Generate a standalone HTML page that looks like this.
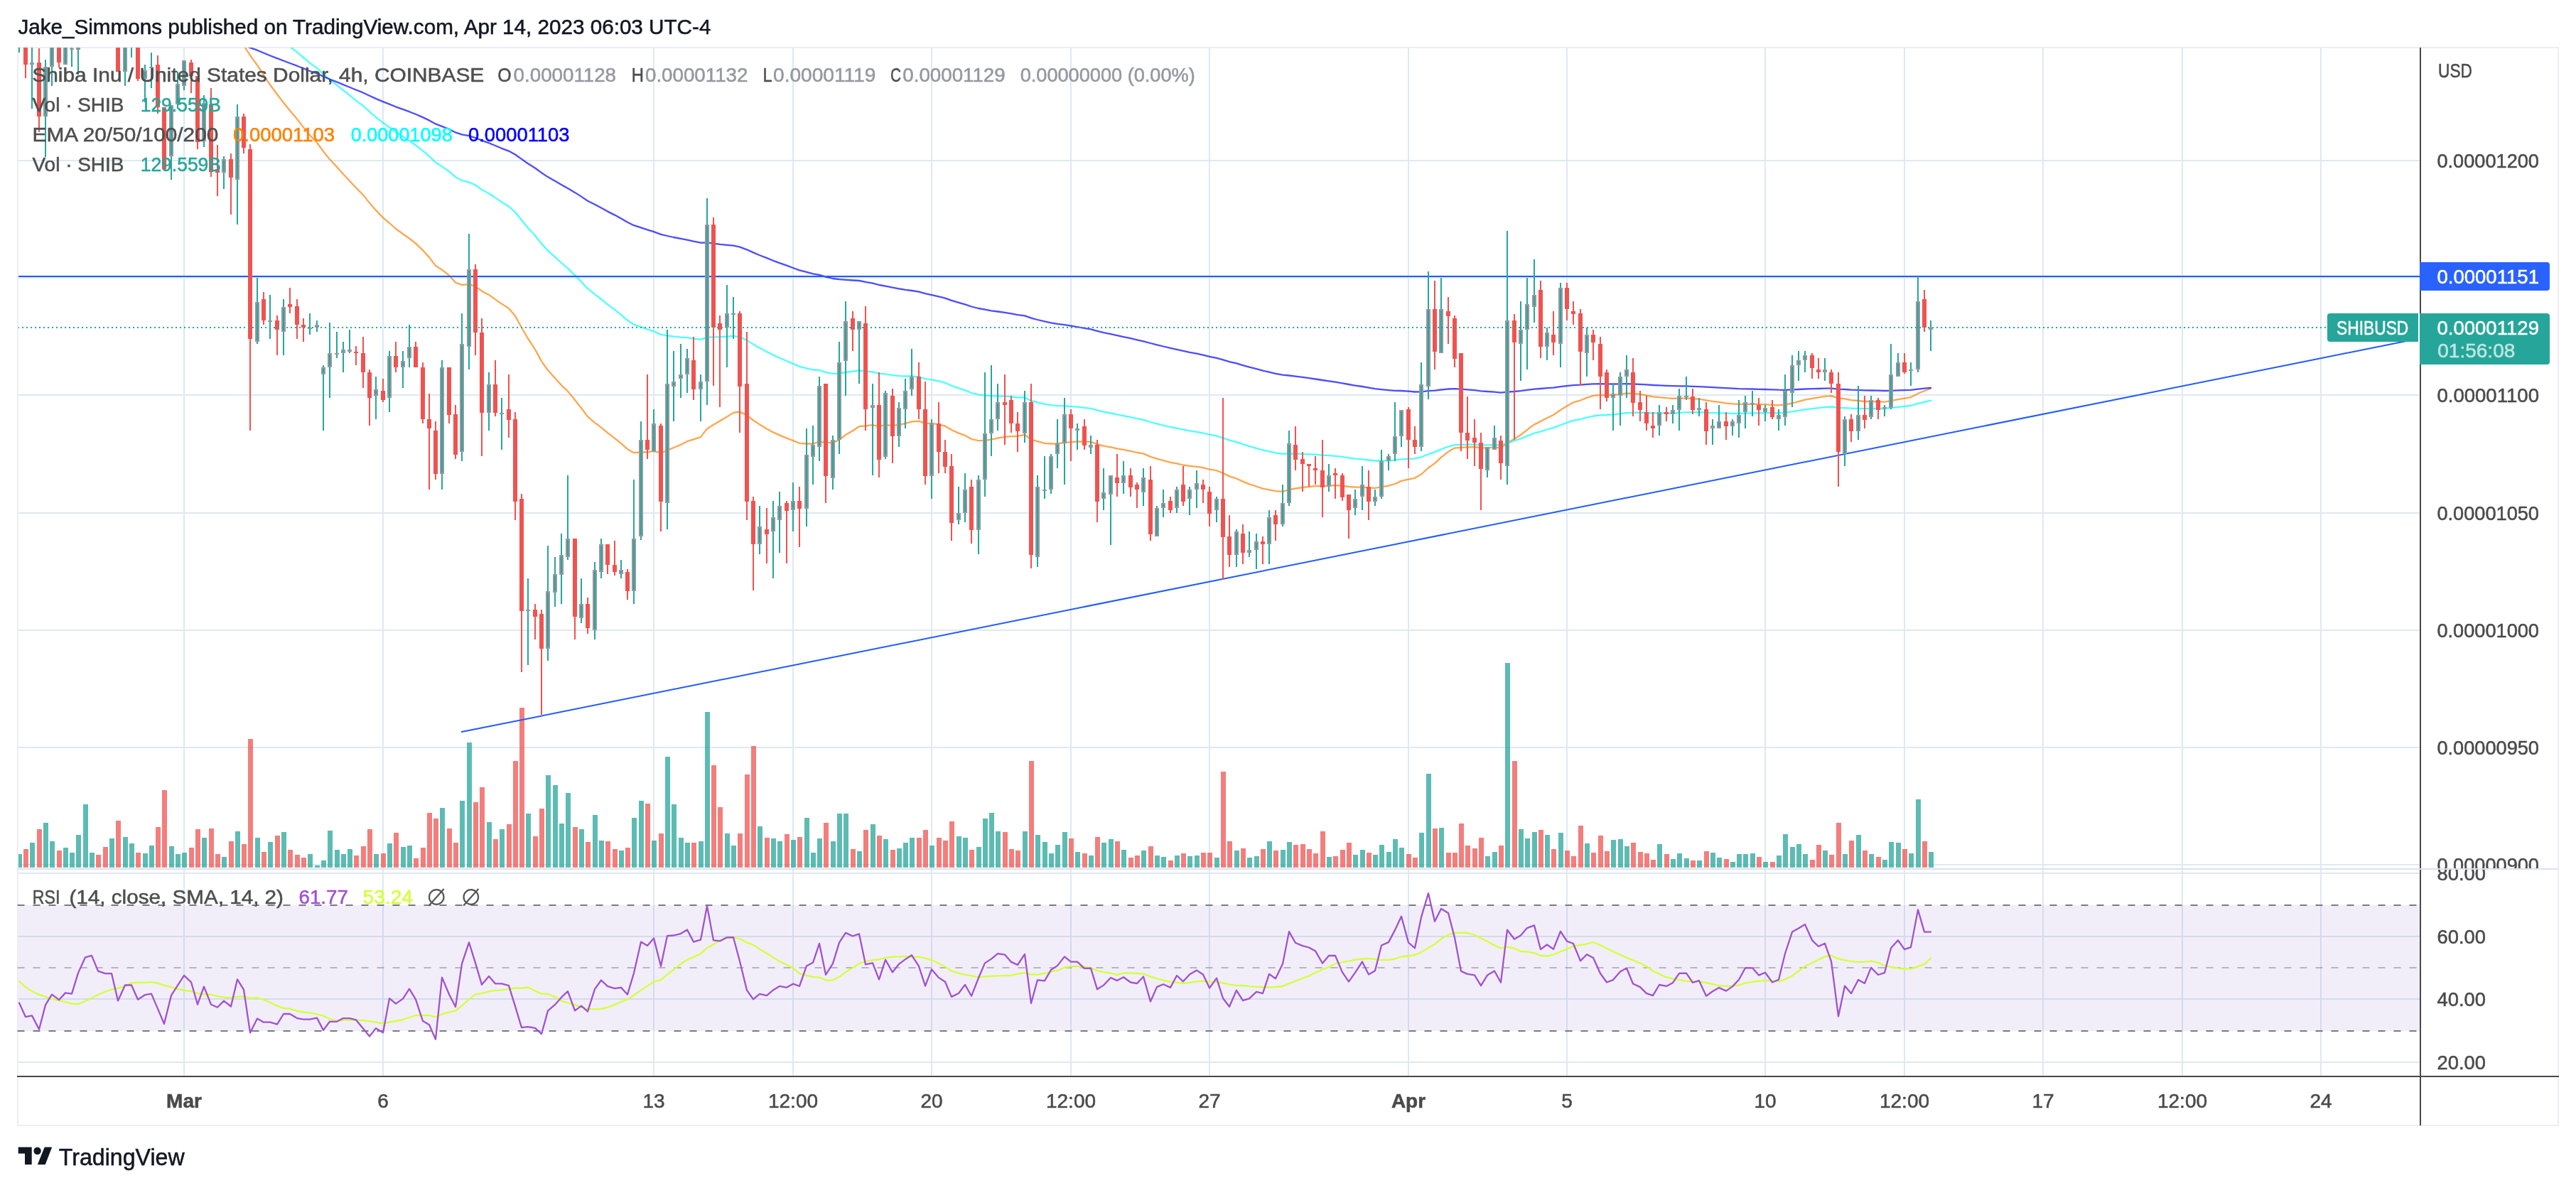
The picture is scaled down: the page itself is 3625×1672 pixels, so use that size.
<!DOCTYPE html>
<html><head><meta charset="utf-8"><title>SHIBUSD chart</title>
<style>html,body{margin:0;padding:0;background:#fff;}body{width:3625px;height:1672px;overflow:hidden;font-family:"Liberation Sans",sans-serif;}svg{display:block;will-change:transform}</style>
</head><body>
<svg width="3625" height="1672" viewBox="0 0 3625 1672" shape-rendering="auto">
<rect width="3625" height="1672" fill="#fff"/>
<defs>
<clipPath id="cm"><rect x="26" y="67" width="3379" height="1155"/></clipPath>
<clipPath id="cr"><rect x="26" y="1224" width="3379" height="290"/></clipPath>
</defs>
<g fill="#eceef3">
<rect x="24" y="66" width="3577" height="2"/>
<rect x="24" y="1583" width="3577" height="2"/>
<rect x="24" y="66" width="2" height="1519"/>
<rect x="3599" y="66" width="2" height="1519"/>
</g>
<g fill="#dee9f1">
<rect x="258" y="67" width="2" height="1447"/>
<rect x="538" y="67" width="2" height="1447"/>
<rect x="919" y="67" width="2" height="1447"/>
<rect x="1115" y="67" width="2" height="1447"/>
<rect x="1310" y="67" width="2" height="1447"/>
<rect x="1506" y="67" width="2" height="1447"/>
<rect x="1701" y="67" width="2" height="1447"/>
<rect x="1981" y="67" width="2" height="1447"/>
<rect x="2204" y="67" width="2" height="1447"/>
<rect x="2483" y="67" width="2" height="1447"/>
<rect x="2679" y="67" width="2" height="1447"/>
<rect x="2874" y="67" width="2" height="1447"/>
<rect x="3070" y="67" width="2" height="1447"/>
<rect x="3265" y="67" width="2" height="1447"/>
<rect x="26" y="225" width="3379" height="2"/>
<rect x="26" y="390" width="3379" height="2"/>
<rect x="26" y="555" width="3379" height="2"/>
<rect x="26" y="721" width="3379" height="2"/>
<rect x="26" y="886" width="3379" height="2"/>
<rect x="26" y="1051" width="3379" height="2"/>
<rect x="26" y="1216" width="3379" height="2"/>
<rect x="26" y="1228" width="3379" height="2"/>
<rect x="26" y="1317" width="3379" height="2"/>
<rect x="26" y="1405" width="3379" height="2"/>
<rect x="26" y="1494" width="3379" height="2"/>
</g>
<rect x="26" y="1274" width="3379" height="177" fill="#7e57c2" fill-opacity="0.1"/>
<line x1="24.5" y1="1274" x2="3405" y2="1274" stroke="#787b86" stroke-opacity="1" stroke-width="2" stroke-dasharray="10 12"/>
<line x1="24.5" y1="1451" x2="3405" y2="1451" stroke="#787b86" stroke-opacity="1" stroke-width="2" stroke-dasharray="10 12"/>
<line x1="24.5" y1="1362" x2="3405" y2="1362" stroke="#787b86" stroke-opacity="0.5" stroke-width="2" stroke-dasharray="10 12"/>
<g clip-path="url(#cm)">
<g fill="#26a69a" fill-opacity="0.75">
<rect x="24" y="1202.0" width="7" height="19.0"/>
<rect x="42" y="1186.0" width="7" height="35.0"/>
<rect x="61" y="1158.0" width="7" height="63.0"/>
<rect x="70" y="1184.0" width="7" height="37.0"/>
<rect x="89" y="1193.0" width="7" height="28.0"/>
<rect x="98" y="1200.0" width="7" height="21.0"/>
<rect x="107" y="1175.0" width="7" height="46.0"/>
<rect x="117" y="1132.0" width="7" height="89.0"/>
<rect x="126" y="1200.0" width="7" height="21.0"/>
<rect x="154" y="1180.0" width="7" height="41.0"/>
<rect x="173" y="1178.0" width="7" height="43.0"/>
<rect x="182" y="1187.0" width="7" height="34.0"/>
<rect x="201" y="1201.0" width="7" height="20.0"/>
<rect x="210" y="1190.0" width="7" height="31.0"/>
<rect x="238" y="1191.0" width="7" height="30.0"/>
<rect x="247" y="1202.0" width="7" height="19.0"/>
<rect x="256" y="1200.0" width="7" height="21.0"/>
<rect x="284" y="1179.0" width="7" height="42.0"/>
<rect x="312" y="1206.0" width="7" height="15.0"/>
<rect x="331" y="1170.0" width="7" height="51.0"/>
<rect x="359" y="1179.0" width="7" height="42.0"/>
<rect x="377" y="1185.0" width="7" height="36.0"/>
<rect x="396" y="1171.0" width="7" height="50.0"/>
<rect x="433" y="1202.0" width="7" height="19.0"/>
<rect x="443" y="1218.0" width="7" height="3.0"/>
<rect x="452" y="1211.0" width="7" height="10.0"/>
<rect x="461" y="1169.0" width="7" height="52.0"/>
<rect x="471" y="1196.0" width="7" height="25.0"/>
<rect x="480" y="1202.0" width="7" height="19.0"/>
<rect x="489" y="1195.0" width="7" height="26.0"/>
<rect x="526" y="1202.0" width="7" height="19.0"/>
<rect x="545" y="1187.0" width="7" height="34.0"/>
<rect x="564" y="1192.0" width="7" height="29.0"/>
<rect x="573" y="1190.0" width="7" height="31.0"/>
<rect x="619" y="1137.0" width="7" height="84.0"/>
<rect x="647" y="1127.0" width="7" height="94.0"/>
<rect x="657" y="1045.0" width="7" height="176.0"/>
<rect x="685" y="1157.0" width="7" height="64.0"/>
<rect x="703" y="1167.0" width="7" height="54.0"/>
<rect x="740" y="1145.0" width="7" height="76.0"/>
<rect x="768" y="1091.0" width="7" height="130.0"/>
<rect x="778" y="1105.0" width="7" height="116.0"/>
<rect x="787" y="1159.0" width="7" height="62.0"/>
<rect x="796" y="1116.0" width="7" height="105.0"/>
<rect x="815" y="1167.0" width="7" height="54.0"/>
<rect x="834" y="1147.0" width="7" height="74.0"/>
<rect x="843" y="1183.0" width="7" height="38.0"/>
<rect x="871" y="1197.0" width="7" height="24.0"/>
<rect x="889" y="1151.0" width="7" height="70.0"/>
<rect x="899" y="1127.0" width="7" height="94.0"/>
<rect x="917" y="1183.0" width="7" height="38.0"/>
<rect x="936" y="1065.0" width="7" height="156.0"/>
<rect x="945" y="1132.0" width="7" height="89.0"/>
<rect x="955" y="1179.0" width="7" height="42.0"/>
<rect x="964" y="1186.0" width="7" height="35.0"/>
<rect x="983" y="1184.0" width="7" height="37.0"/>
<rect x="992" y="1002.0" width="7" height="219.0"/>
<rect x="1020" y="1173.0" width="7" height="48.0"/>
<rect x="1029" y="1190.0" width="7" height="31.0"/>
<rect x="1066" y="1163.0" width="7" height="58.0"/>
<rect x="1085" y="1180.0" width="7" height="41.0"/>
<rect x="1094" y="1184.0" width="7" height="37.0"/>
<rect x="1113" y="1182.0" width="7" height="39.0"/>
<rect x="1132" y="1151.0" width="7" height="70.0"/>
<rect x="1141" y="1200.0" width="7" height="21.0"/>
<rect x="1150" y="1180.0" width="7" height="41.0"/>
<rect x="1169" y="1184.0" width="7" height="37.0"/>
<rect x="1178" y="1145.0" width="7" height="76.0"/>
<rect x="1187" y="1145.0" width="7" height="76.0"/>
<rect x="1206" y="1198.0" width="7" height="23.0"/>
<rect x="1225" y="1160.0" width="7" height="61.0"/>
<rect x="1243" y="1181.0" width="7" height="40.0"/>
<rect x="1262" y="1194.0" width="7" height="27.0"/>
<rect x="1271" y="1186.0" width="7" height="35.0"/>
<rect x="1280" y="1179.0" width="7" height="42.0"/>
<rect x="1308" y="1190.0" width="7" height="31.0"/>
<rect x="1346" y="1177.0" width="7" height="44.0"/>
<rect x="1355" y="1179.0" width="7" height="42.0"/>
<rect x="1374" y="1192.0" width="7" height="29.0"/>
<rect x="1383" y="1152.0" width="7" height="69.0"/>
<rect x="1392" y="1144.0" width="7" height="77.0"/>
<rect x="1401" y="1170.0" width="7" height="51.0"/>
<rect x="1439" y="1170.0" width="7" height="51.0"/>
<rect x="1457" y="1175.0" width="7" height="46.0"/>
<rect x="1467" y="1185.0" width="7" height="36.0"/>
<rect x="1476" y="1201.0" width="7" height="20.0"/>
<rect x="1485" y="1189.0" width="7" height="32.0"/>
<rect x="1495" y="1171.0" width="7" height="50.0"/>
<rect x="1513" y="1199.0" width="7" height="22.0"/>
<rect x="1532" y="1204.0" width="7" height="17.0"/>
<rect x="1550" y="1186.0" width="7" height="35.0"/>
<rect x="1560" y="1181.0" width="7" height="40.0"/>
<rect x="1578" y="1196.0" width="7" height="25.0"/>
<rect x="1606" y="1197.0" width="7" height="24.0"/>
<rect x="1625" y="1204.0" width="7" height="17.0"/>
<rect x="1634" y="1206.0" width="7" height="15.0"/>
<rect x="1653" y="1204.0" width="7" height="17.0"/>
<rect x="1671" y="1205.0" width="7" height="16.0"/>
<rect x="1681" y="1204.0" width="7" height="17.0"/>
<rect x="1709" y="1207.0" width="7" height="14.0"/>
<rect x="1737" y="1197.0" width="7" height="24.0"/>
<rect x="1755" y="1207.0" width="7" height="14.0"/>
<rect x="1765" y="1205.0" width="7" height="16.0"/>
<rect x="1783" y="1184.0" width="7" height="37.0"/>
<rect x="1802" y="1196.0" width="7" height="25.0"/>
<rect x="1811" y="1185.0" width="7" height="36.0"/>
<rect x="1867" y="1206.0" width="7" height="15.0"/>
<rect x="1904" y="1203.0" width="7" height="18.0"/>
<rect x="1914" y="1196.0" width="7" height="25.0"/>
<rect x="1932" y="1203.0" width="7" height="18.0"/>
<rect x="1941" y="1189.0" width="7" height="32.0"/>
<rect x="1951" y="1199.0" width="7" height="22.0"/>
<rect x="1960" y="1181.0" width="7" height="40.0"/>
<rect x="1969" y="1193.0" width="7" height="28.0"/>
<rect x="1997" y="1172.0" width="7" height="49.0"/>
<rect x="2007" y="1089.0" width="7" height="132.0"/>
<rect x="2025" y="1165.0" width="7" height="56.0"/>
<rect x="2090" y="1205.0" width="7" height="16.0"/>
<rect x="2100" y="1199.0" width="7" height="22.0"/>
<rect x="2118" y="933.0" width="7" height="288.0"/>
<rect x="2137" y="1167.0" width="7" height="54.0"/>
<rect x="2146" y="1180.0" width="7" height="41.0"/>
<rect x="2156" y="1171.0" width="7" height="50.0"/>
<rect x="2174" y="1175.0" width="7" height="46.0"/>
<rect x="2193" y="1172.0" width="7" height="49.0"/>
<rect x="2230" y="1187.0" width="7" height="34.0"/>
<rect x="2267" y="1182.0" width="7" height="39.0"/>
<rect x="2277" y="1181.0" width="7" height="40.0"/>
<rect x="2286" y="1191.0" width="7" height="30.0"/>
<rect x="2332" y="1188.0" width="7" height="33.0"/>
<rect x="2351" y="1209.0" width="7" height="12.0"/>
<rect x="2360" y="1201.0" width="7" height="20.0"/>
<rect x="2370" y="1208.0" width="7" height="13.0"/>
<rect x="2388" y="1211.0" width="7" height="10.0"/>
<rect x="2407" y="1200.0" width="7" height="21.0"/>
<rect x="2416" y="1207.0" width="7" height="14.0"/>
<rect x="2435" y="1213.0" width="7" height="8.0"/>
<rect x="2444" y="1202.0" width="7" height="19.0"/>
<rect x="2453" y="1202.0" width="7" height="19.0"/>
<rect x="2463" y="1201.0" width="7" height="20.0"/>
<rect x="2481" y="1213.0" width="7" height="8.0"/>
<rect x="2500" y="1204.0" width="7" height="17.0"/>
<rect x="2509" y="1174.0" width="7" height="47.0"/>
<rect x="2519" y="1192.0" width="7" height="29.0"/>
<rect x="2528" y="1188.0" width="7" height="33.0"/>
<rect x="2537" y="1202.0" width="7" height="19.0"/>
<rect x="2565" y="1197.0" width="7" height="24.0"/>
<rect x="2593" y="1202.0" width="7" height="19.0"/>
<rect x="2612" y="1175.0" width="7" height="46.0"/>
<rect x="2630" y="1202.0" width="7" height="19.0"/>
<rect x="2649" y="1210.0" width="7" height="11.0"/>
<rect x="2658" y="1185.0" width="7" height="36.0"/>
<rect x="2668" y="1186.0" width="7" height="35.0"/>
<rect x="2686" y="1201.0" width="7" height="20.0"/>
<rect x="2696" y="1125.0" width="7" height="96.0"/>
<rect x="2714" y="1199.0" width="7" height="22.0"/>
</g><g fill="#ef5350" fill-opacity="0.75">
<rect x="33" y="1195.0" width="7" height="26.0"/>
<rect x="52" y="1167.0" width="7" height="54.0"/>
<rect x="80" y="1197.0" width="7" height="24.0"/>
<rect x="135" y="1203.0" width="7" height="18.0"/>
<rect x="145" y="1192.0" width="7" height="29.0"/>
<rect x="163" y="1155.0" width="7" height="66.0"/>
<rect x="191" y="1200.0" width="7" height="21.0"/>
<rect x="219" y="1164.0" width="7" height="57.0"/>
<rect x="228" y="1112.0" width="7" height="109.0"/>
<rect x="266" y="1193.0" width="7" height="28.0"/>
<rect x="275" y="1167.0" width="7" height="54.0"/>
<rect x="294" y="1166.0" width="7" height="55.0"/>
<rect x="303" y="1202.0" width="7" height="19.0"/>
<rect x="322" y="1184.0" width="7" height="37.0"/>
<rect x="340" y="1188.0" width="7" height="33.0"/>
<rect x="349" y="1040.0" width="7" height="181.0"/>
<rect x="368" y="1199.0" width="7" height="22.0"/>
<rect x="387" y="1176.0" width="7" height="45.0"/>
<rect x="405" y="1196.0" width="7" height="25.0"/>
<rect x="415" y="1203.0" width="7" height="18.0"/>
<rect x="424" y="1207.0" width="7" height="14.0"/>
<rect x="498" y="1204.0" width="7" height="17.0"/>
<rect x="508" y="1191.0" width="7" height="30.0"/>
<rect x="517" y="1167.0" width="7" height="54.0"/>
<rect x="536" y="1201.0" width="7" height="20.0"/>
<rect x="554" y="1172.0" width="7" height="49.0"/>
<rect x="582" y="1208.0" width="7" height="13.0"/>
<rect x="592" y="1193.0" width="7" height="28.0"/>
<rect x="601" y="1144.0" width="7" height="77.0"/>
<rect x="610" y="1152.0" width="7" height="69.0"/>
<rect x="629" y="1166.0" width="7" height="55.0"/>
<rect x="638" y="1186.0" width="7" height="35.0"/>
<rect x="666" y="1129.0" width="7" height="92.0"/>
<rect x="675" y="1108.0" width="7" height="113.0"/>
<rect x="694" y="1181.0" width="7" height="40.0"/>
<rect x="713" y="1160.0" width="7" height="61.0"/>
<rect x="722" y="1071.0" width="7" height="150.0"/>
<rect x="731" y="996.0" width="7" height="225.0"/>
<rect x="750" y="1177.0" width="7" height="44.0"/>
<rect x="759" y="1138.0" width="7" height="83.0"/>
<rect x="806" y="1164.0" width="7" height="57.0"/>
<rect x="824" y="1185.0" width="7" height="36.0"/>
<rect x="852" y="1184.0" width="7" height="37.0"/>
<rect x="862" y="1195.0" width="7" height="26.0"/>
<rect x="880" y="1193.0" width="7" height="28.0"/>
<rect x="908" y="1131.0" width="7" height="90.0"/>
<rect x="927" y="1173.0" width="7" height="48.0"/>
<rect x="973" y="1186.0" width="7" height="35.0"/>
<rect x="1001" y="1077.0" width="7" height="144.0"/>
<rect x="1010" y="1136.0" width="7" height="85.0"/>
<rect x="1038" y="1173.0" width="7" height="48.0"/>
<rect x="1048" y="1090.0" width="7" height="131.0"/>
<rect x="1057" y="1050.0" width="7" height="171.0"/>
<rect x="1076" y="1179.0" width="7" height="42.0"/>
<rect x="1104" y="1174.0" width="7" height="47.0"/>
<rect x="1122" y="1178.0" width="7" height="43.0"/>
<rect x="1159" y="1158.0" width="7" height="63.0"/>
<rect x="1197" y="1195.0" width="7" height="26.0"/>
<rect x="1215" y="1168.0" width="7" height="53.0"/>
<rect x="1234" y="1176.0" width="7" height="45.0"/>
<rect x="1253" y="1196.0" width="7" height="25.0"/>
<rect x="1290" y="1179.0" width="7" height="42.0"/>
<rect x="1299" y="1168.0" width="7" height="53.0"/>
<rect x="1318" y="1179.0" width="7" height="42.0"/>
<rect x="1327" y="1183.0" width="7" height="38.0"/>
<rect x="1336" y="1156.0" width="7" height="65.0"/>
<rect x="1364" y="1196.0" width="7" height="25.0"/>
<rect x="1411" y="1171.0" width="7" height="50.0"/>
<rect x="1420" y="1195.0" width="7" height="26.0"/>
<rect x="1429" y="1197.0" width="7" height="24.0"/>
<rect x="1448" y="1071.0" width="7" height="150.0"/>
<rect x="1504" y="1180.0" width="7" height="41.0"/>
<rect x="1523" y="1201.0" width="7" height="20.0"/>
<rect x="1541" y="1178.0" width="7" height="43.0"/>
<rect x="1569" y="1184.0" width="7" height="37.0"/>
<rect x="1588" y="1207.0" width="7" height="14.0"/>
<rect x="1597" y="1204.0" width="7" height="17.0"/>
<rect x="1616" y="1191.0" width="7" height="30.0"/>
<rect x="1644" y="1211.0" width="7" height="10.0"/>
<rect x="1662" y="1201.0" width="7" height="20.0"/>
<rect x="1690" y="1200.0" width="7" height="21.0"/>
<rect x="1699" y="1200.0" width="7" height="21.0"/>
<rect x="1718" y="1086.0" width="7" height="135.0"/>
<rect x="1727" y="1184.0" width="7" height="37.0"/>
<rect x="1746" y="1194.0" width="7" height="27.0"/>
<rect x="1774" y="1195.0" width="7" height="26.0"/>
<rect x="1792" y="1197.0" width="7" height="24.0"/>
<rect x="1820" y="1189.0" width="7" height="32.0"/>
<rect x="1830" y="1188.0" width="7" height="33.0"/>
<rect x="1839" y="1195.0" width="7" height="26.0"/>
<rect x="1848" y="1201.0" width="7" height="20.0"/>
<rect x="1858" y="1170.0" width="7" height="51.0"/>
<rect x="1876" y="1205.0" width="7" height="16.0"/>
<rect x="1886" y="1196.0" width="7" height="25.0"/>
<rect x="1895" y="1186.0" width="7" height="35.0"/>
<rect x="1923" y="1200.0" width="7" height="21.0"/>
<rect x="1979" y="1202.0" width="7" height="19.0"/>
<rect x="1988" y="1207.0" width="7" height="14.0"/>
<rect x="2016" y="1166.0" width="7" height="55.0"/>
<rect x="2035" y="1200.0" width="7" height="21.0"/>
<rect x="2044" y="1200.0" width="7" height="21.0"/>
<rect x="2053" y="1159.0" width="7" height="62.0"/>
<rect x="2062" y="1190.0" width="7" height="31.0"/>
<rect x="2072" y="1194.0" width="7" height="27.0"/>
<rect x="2081" y="1179.0" width="7" height="42.0"/>
<rect x="2109" y="1190.0" width="7" height="31.0"/>
<rect x="2128" y="1071.0" width="7" height="150.0"/>
<rect x="2165" y="1168.0" width="7" height="53.0"/>
<rect x="2183" y="1195.0" width="7" height="26.0"/>
<rect x="2202" y="1197.0" width="7" height="24.0"/>
<rect x="2211" y="1205.0" width="7" height="16.0"/>
<rect x="2221" y="1162.0" width="7" height="59.0"/>
<rect x="2239" y="1200.0" width="7" height="21.0"/>
<rect x="2249" y="1176.0" width="7" height="45.0"/>
<rect x="2258" y="1198.0" width="7" height="23.0"/>
<rect x="2295" y="1186.0" width="7" height="35.0"/>
<rect x="2305" y="1199.0" width="7" height="22.0"/>
<rect x="2314" y="1201.0" width="7" height="20.0"/>
<rect x="2323" y="1210.0" width="7" height="11.0"/>
<rect x="2342" y="1202.0" width="7" height="19.0"/>
<rect x="2379" y="1211.0" width="7" height="10.0"/>
<rect x="2398" y="1198.0" width="7" height="23.0"/>
<rect x="2426" y="1209.0" width="7" height="12.0"/>
<rect x="2472" y="1206.0" width="7" height="15.0"/>
<rect x="2491" y="1213.0" width="7" height="8.0"/>
<rect x="2547" y="1210.0" width="7" height="11.0"/>
<rect x="2556" y="1189.0" width="7" height="32.0"/>
<rect x="2574" y="1203.0" width="7" height="18.0"/>
<rect x="2584" y="1158.0" width="7" height="63.0"/>
<rect x="2602" y="1183.0" width="7" height="38.0"/>
<rect x="2621" y="1197.0" width="7" height="24.0"/>
<rect x="2640" y="1206.0" width="7" height="15.0"/>
<rect x="2677" y="1195.0" width="7" height="26.0"/>
<rect x="2705" y="1184.0" width="7" height="37.0"/>
</g>
<polyline points="292.0,-15.0 352.0,78.0 362.0,91.6 371.0,105.7 380.0,119.3 390.0,132.8 399.0,144.5 408.0,155.8 418.0,167.6 427.0,179.1 436.0,190.2 446.0,200.7 455.0,213.1 464.0,224.2 474.0,234.9 483.0,245.0 492.0,254.7 501.0,264.2 511.0,274.4 520.0,285.6 529.0,295.9 539.0,306.4 548.0,314.0 557.0,322.0 567.0,329.2 576.0,335.5 585.0,342.6 595.0,352.3 604.0,362.1 613.0,374.1 622.0,379.7 632.0,387.7 641.0,397.6 650.0,401.0 660.0,400.1 669.0,402.8 678.0,409.7 688.0,414.9 697.0,421.4 706.0,427.6 716.0,434.0 725.0,444.7 734.0,461.0 743.0,476.5 753.0,491.9 762.0,508.4 771.0,521.1 781.0,532.3 790.0,542.1 799.0,550.6 809.0,563.0 818.0,574.3 827.0,586.4 837.0,594.9 846.0,601.6 855.0,609.1 865.0,616.8 874.0,624.1 883.0,632.2 892.0,637.2 902.0,636.5 911.0,636.3 920.0,634.8 930.0,637.5 939.0,633.7 948.0,630.0 958.0,625.9 967.0,621.2 976.0,618.3 986.0,615.1 995.0,603.4 1004.0,597.8 1013.0,592.6 1023.0,586.6 1032.0,580.9 1041.0,579.5 1051.0,584.4 1060.0,591.5 1069.0,597.4 1079.0,603.5 1088.0,608.4 1097.0,612.4 1107.0,616.6 1116.0,620.1 1125.0,623.8 1135.0,624.5 1144.0,624.5 1153.0,621.3 1162.0,623.2 1172.0,623.1 1181.0,618.7 1190.0,612.1 1200.0,606.3 1209.0,600.2 1218.0,599.3 1228.0,598.2 1237.0,600.1 1246.0,598.2 1256.0,598.8 1265.0,597.9 1274.0,596.0 1283.0,593.4 1293.0,592.7 1302.0,595.8 1311.0,595.8 1321.0,597.4 1330.0,599.7 1339.0,605.0 1349.0,609.6 1358.0,612.8 1367.0,618.0 1377.0,620.2 1386.0,619.8 1395.0,618.7 1404.0,616.6 1414.0,614.8 1423.0,614.1 1432.0,613.8 1442.0,611.9 1451.0,618.6 1460.0,621.2 1470.0,623.8 1479.0,624.5 1488.0,624.5 1498.0,622.9 1507.0,622.1 1516.0,621.4 1526.0,621.6 1535.0,621.8 1544.0,625.1 1553.0,627.7 1563.0,629.4 1572.0,631.3 1581.0,632.8 1591.0,634.9 1600.0,637.0 1609.0,638.4 1619.0,642.9 1628.0,645.7 1637.0,648.2 1647.0,650.9 1656.0,652.4 1665.0,654.5 1674.0,655.9 1684.0,656.8 1693.0,658.1 1702.0,660.6 1712.0,662.2 1721.0,665.9 1730.0,670.4 1740.0,673.5 1749.0,677.6 1758.0,681.4 1768.0,684.5 1777.0,687.7 1786.0,689.3 1795.0,691.2 1805.0,691.9 1814.0,689.2 1823.0,687.5 1833.0,686.2 1842.0,685.0 1851.0,684.1 1861.0,684.2 1870.0,683.6 1879.0,683.0 1889.0,683.7 1898.0,685.0 1907.0,685.7 1917.0,685.6 1926.0,686.4 1935.0,686.9 1944.0,685.4 1954.0,683.7 1963.0,681.0 1972.0,676.9 1982.0,674.6 1991.0,672.8 2000.0,667.6 2010.0,658.5 2019.0,652.1 2028.0,643.6 2038.0,635.8 2047.0,630.6 2056.0,629.8 2065.0,629.4 2075.0,629.1 2084.0,630.3 2093.0,630.3 2103.0,629.7 2112.0,630.6 2121.0,623.6 2131.0,618.0 2140.0,612.0 2149.0,604.8 2159.0,597.4 2168.0,593.1 2177.0,588.2 2186.0,584.0 2196.0,577.0 2205.0,571.4 2214.0,566.3 2224.0,563.5 2233.0,559.9 2242.0,556.8 2252.0,555.8 2261.0,556.0 2270.0,555.9 2280.0,554.9 2289.0,553.5 2298.0,554.0 2308.0,554.9 2317.0,556.5 2326.0,558.4 2335.0,559.2 2345.0,560.2 2354.0,560.8 2363.0,560.7 2373.0,560.5 2382.0,561.2 2391.0,561.7 2401.0,563.4 2410.0,564.8 2419.0,565.9 2429.0,567.3 2438.0,568.3 2447.0,568.9 2456.0,568.8 2466.0,568.7 2475.0,569.0 2484.0,569.2 2494.0,569.9 2503.0,570.4 2512.0,569.6 2522.0,567.5 2531.0,565.1 2540.0,562.6 2550.0,560.8 2559.0,559.4 2568.0,557.8 2577.0,557.1 2587.0,560.3 2596.0,561.4 2605.0,563.2 2615.0,564.0 2624.0,565.0 2633.0,565.0 2643.0,565.4 2652.0,565.7 2661.0,564.2 2671.0,562.1 2680.0,560.6 2689.0,559.1 2699.0,553.8 2708.0,550.2 2717.0,546.7" fill="none" stroke="#ff8000" stroke-opacity="0.7" stroke-width="2.3" stroke-linejoin="round" stroke-linecap="round"/>
<polyline points="292.0,-33.4 352.0,17.6 362.0,25.6 371.0,34.0 380.0,42.3 390.0,50.7 399.0,58.2 408.0,65.6 418.0,73.4 427.0,81.0 436.0,88.6 446.0,95.9 455.0,104.2 464.0,112.0 474.0,119.6 483.0,127.0 492.0,134.2 501.0,141.4 511.0,149.0 520.0,157.1 529.0,164.9 539.0,172.8 548.0,179.2 557.0,185.9 567.0,192.3 576.0,198.2 585.0,204.5 595.0,212.1 604.0,219.9 613.0,228.7 622.0,234.4 632.0,241.3 641.0,249.2 650.0,253.9 660.0,256.4 669.0,260.5 678.0,266.9 688.0,272.3 697.0,278.4 706.0,284.4 716.0,290.5 725.0,298.7 734.0,309.8 743.0,320.7 753.0,331.5 762.0,343.0 771.0,352.7 781.0,361.7 790.0,370.0 799.0,377.7 809.0,387.4 818.0,396.6 827.0,406.2 837.0,414.1 846.0,421.0 855.0,428.4 865.0,435.9 874.0,443.1 883.0,450.8 892.0,456.9 902.0,460.1 911.0,463.5 920.0,466.2 930.0,470.9 939.0,472.3 948.0,473.6 958.0,474.6 967.0,475.2 976.0,476.7 986.0,477.9 995.0,474.7 1004.0,474.4 1013.0,474.2 1023.0,473.6 1032.0,472.9 1041.0,474.3 1051.0,478.9 1060.0,484.6 1069.0,489.7 1079.0,494.9 1088.0,499.5 1097.0,503.7 1107.0,508.0 1116.0,511.9 1125.0,515.9 1135.0,518.3 1144.0,520.5 1153.0,520.9 1162.0,523.9 1172.0,525.8 1181.0,525.5 1190.0,524.0 1200.0,522.8 1209.0,521.4 1218.0,522.5 1228.0,523.4 1237.0,525.9 1246.0,526.4 1256.0,528.2 1265.0,529.1 1274.0,529.5 1283.0,529.5 1293.0,530.4 1302.0,533.2 1311.0,534.4 1321.0,536.4 1330.0,538.8 1339.0,542.7 1349.0,546.3 1358.0,549.1 1367.0,553.0 1377.0,555.4 1386.0,556.5 1395.0,557.2 1404.0,557.4 1414.0,557.6 1423.0,558.4 1432.0,559.3 1442.0,559.5 1451.0,563.9 1460.0,566.3 1470.0,568.7 1479.0,570.2 1488.0,571.2 1498.0,571.4 1507.0,572.1 1516.0,572.7 1526.0,573.8 1535.0,574.8 1544.0,577.4 1553.0,579.7 1563.0,581.5 1572.0,583.4 1581.0,585.1 1591.0,587.1 1600.0,589.1 1609.0,590.8 1619.0,594.0 1628.0,596.4 1637.0,598.6 1647.0,601.0 1656.0,602.7 1665.0,604.7 1674.0,606.4 1684.0,607.9 1693.0,609.5 1702.0,611.7 1712.0,613.5 1721.0,616.3 1730.0,619.6 1740.0,622.1 1749.0,625.2 1758.0,628.2 1768.0,630.8 1777.0,633.5 1786.0,635.4 1795.0,637.4 1805.0,638.8 1814.0,638.5 1823.0,638.7 1833.0,638.9 1842.0,639.3 1851.0,639.7 1861.0,640.7 1870.0,641.2 1879.0,641.8 1889.0,642.9 1898.0,644.4 1907.0,645.6 1917.0,646.3 1926.0,647.5 1935.0,648.5 1944.0,648.5 1954.0,648.4 1963.0,647.7 1972.0,646.3 1982.0,645.8 1991.0,645.4 2000.0,643.4 2010.0,639.2 2019.0,636.4 2028.0,632.4 2038.0,628.6 2047.0,626.2 2056.0,625.9 2065.0,625.7 2075.0,625.7 2084.0,626.4 2093.0,626.4 2103.0,626.2 2112.0,626.7 2121.0,623.3 2131.0,620.5 2140.0,617.4 2149.0,613.6 2159.0,609.7 2168.0,607.3 2177.0,604.5 2186.0,602.1 2196.0,598.2 2205.0,594.9 2214.0,591.9 2224.0,590.0 2233.0,587.6 2242.0,585.5 2252.0,584.4 2261.0,584.0 2270.0,583.4 2280.0,582.3 2289.0,581.1 2298.0,580.8 2308.0,580.7 2317.0,581.0 2326.0,581.5 2335.0,581.4 2345.0,581.5 2354.0,581.4 2363.0,580.9 2373.0,580.4 2382.0,580.4 2391.0,580.2 2401.0,580.8 2410.0,581.1 2419.0,581.4 2429.0,581.7 2438.0,582.0 2447.0,582.0 2456.0,581.7 2466.0,581.4 2475.0,581.3 2484.0,581.1 2494.0,581.2 2503.0,581.3 2512.0,580.7 2522.0,579.4 2531.0,577.9 2540.0,576.4 2550.0,575.2 2559.0,574.2 2568.0,573.2 2577.0,572.5 2587.0,573.8 2596.0,574.1 2605.0,574.7 2615.0,574.9 2624.0,575.2 2633.0,575.0 2643.0,575.0 2652.0,575.0 2661.0,574.0 2671.0,572.8 2680.0,571.8 2689.0,570.8 2699.0,567.9 2708.0,565.8 2717.0,563.7" fill="none" stroke="#00ffff" stroke-opacity="0.7" stroke-width="2.3" stroke-linejoin="round" stroke-linecap="round"/>
<polyline points="292.0,43.7 352.0,67.1 362.0,70.7 371.0,74.5 380.0,78.2 390.0,82.1 399.0,85.5 408.0,89.0 418.0,92.7 427.0,96.3 436.0,100.0 446.0,103.5 455.0,107.6 464.0,111.5 474.0,115.3 483.0,119.1 492.0,122.8 501.0,126.5 511.0,130.5 520.0,134.8 529.0,138.9 539.0,143.1 548.0,146.6 557.0,150.3 567.0,153.9 576.0,157.2 585.0,160.8 595.0,165.1 604.0,169.4 613.0,174.4 622.0,177.8 632.0,181.8 641.0,186.4 650.0,189.3 660.0,191.2 669.0,194.0 678.0,197.8 688.0,201.2 697.0,205.0 706.0,208.8 716.0,212.6 725.0,217.5 734.0,223.9 743.0,230.2 753.0,236.5 762.0,243.2 771.0,249.1 781.0,254.7 790.0,259.9 799.0,264.9 809.0,270.9 818.0,276.6 827.0,282.7 837.0,287.8 846.0,292.6 855.0,297.6 865.0,302.6 874.0,307.6 883.0,312.8 892.0,317.2 902.0,320.3 911.0,323.4 920.0,326.1 930.0,329.9 939.0,332.0 948.0,334.0 958.0,335.9 967.0,337.6 976.0,339.7 986.0,341.7 995.0,341.4 1004.0,342.6 1013.0,343.8 1023.0,344.8 1032.0,345.7 1041.0,347.7 1051.0,351.3 1060.0,355.4 1069.0,359.2 1079.0,363.1 1088.0,366.8 1097.0,370.2 1107.0,373.7 1116.0,377.0 1125.0,380.3 1135.0,382.9 1144.0,385.3 1153.0,386.9 1162.0,389.7 1172.0,392.0 1181.0,393.2 1190.0,393.8 1200.0,394.5 1209.0,395.0 1218.0,396.9 1228.0,398.6 1237.0,401.0 1246.0,402.6 1256.0,404.7 1265.0,406.3 1274.0,407.8 1283.0,409.0 1293.0,410.7 1302.0,413.2 1311.0,415.1 1321.0,417.3 1330.0,419.6 1339.0,422.8 1349.0,425.8 1358.0,428.4 1367.0,431.5 1377.0,434.0 1386.0,435.7 1395.0,437.3 1404.0,438.5 1414.0,439.9 1423.0,441.4 1432.0,443.1 1442.0,444.3 1451.0,447.6 1460.0,450.0 1470.0,452.4 1479.0,454.3 1488.0,455.9 1498.0,457.2 1507.0,458.7 1516.0,460.1 1526.0,461.8 1535.0,463.4 1544.0,465.8 1553.0,468.1 1563.0,470.1 1572.0,472.2 1581.0,474.1 1591.0,476.2 1600.0,478.3 1609.0,480.3 1619.0,483.0 1628.0,485.3 1637.0,487.5 1647.0,489.8 1656.0,491.8 1665.0,493.9 1674.0,495.9 1684.0,497.7 1693.0,499.6 1702.0,501.8 1712.0,503.8 1721.0,506.3 1730.0,509.1 1740.0,511.4 1749.0,514.1 1758.0,516.7 1768.0,519.1 1777.0,521.6 1786.0,523.6 1795.0,525.8 1805.0,527.6 1814.0,528.5 1823.0,529.7 1833.0,530.9 1842.0,532.2 1851.0,533.5 1861.0,535.0 1870.0,536.3 1879.0,537.7 1889.0,539.3 1898.0,541.0 1907.0,542.7 1917.0,544.0 1926.0,545.6 1935.0,547.2 1944.0,548.2 1954.0,549.1 1963.0,549.8 1972.0,550.0 1982.0,550.7 1991.0,551.5 2000.0,551.4 2010.0,550.2 2019.0,549.7 2028.0,548.5 2038.0,547.5 2047.0,547.1 2056.0,547.7 2065.0,548.4 2075.0,549.2 2084.0,550.3 2093.0,551.0 2103.0,551.7 2112.0,552.7 2121.0,551.7 2131.0,551.0 2140.0,550.1 2149.0,548.9 2159.0,547.6 2168.0,547.0 2177.0,546.2 2186.0,545.6 2196.0,544.2 2205.0,543.1 2214.0,542.1 2224.0,541.6 2233.0,540.9 2242.0,540.3 2252.0,540.2 2261.0,540.4 2270.0,540.5 2280.0,540.4 2289.0,540.2 2298.0,540.5 2308.0,540.9 2317.0,541.4 2326.0,542.0 2335.0,542.4 2345.0,542.8 2354.0,543.1 2363.0,543.3 2373.0,543.4 2382.0,543.8 2391.0,544.1 2401.0,544.7 2410.0,545.2 2419.0,545.7 2429.0,546.2 2438.0,546.7 2447.0,547.1 2456.0,547.3 2466.0,547.5 2475.0,547.8 2484.0,548.0 2494.0,548.4 2503.0,548.7 2512.0,548.8 2522.0,548.4 2531.0,548.0 2540.0,547.5 2550.0,547.2 2559.0,547.0 2568.0,546.7 2577.0,546.7 2587.0,547.6 2596.0,548.0 2605.0,548.6 2615.0,548.9 2624.0,549.3 2633.0,549.5 2643.0,549.7 2652.0,550.0 2661.0,549.8 2671.0,549.4 2680.0,549.1 2689.0,548.8 2699.0,547.6 2708.0,546.7 2717.0,545.9" fill="none" stroke="#0000ff" stroke-opacity="0.7" stroke-width="2.3" stroke-linejoin="round" stroke-linecap="round"/>
<line x1="26" y1="389" x2="3405" y2="389" stroke="#1f5aff" stroke-width="2"/>
<line x1="649.8" y1="1030.1" x2="3400" y2="477.3" stroke="#1f5aff" stroke-width="2" stroke-linecap="round"/>
<g fill="#ef5350">
<rect x="35" y="40.0" width="2" height="70.0"/>
<rect x="33" y="40.0" width="6" height="51.0"/>
<rect x="54" y="68.0" width="2" height="118.0"/>
<rect x="52" y="88.0" width="6" height="76.0"/>
<rect x="82" y="40.0" width="2" height="55.0"/>
<rect x="80" y="40.0" width="6" height="48.0"/>
<rect x="137" y="30.0" width="2" height="25.0"/>
<rect x="135" y="40.0" width="6" height="10.0"/>
<rect x="147" y="30.0" width="2" height="25.0"/>
<rect x="145" y="40.0" width="6" height="10.0"/>
<rect x="165" y="40.0" width="2" height="61.0"/>
<rect x="163" y="40.0" width="6" height="61.0"/>
<rect x="193" y="40.0" width="2" height="74.0"/>
<rect x="191" y="40.0" width="6" height="71.0"/>
<rect x="221" y="78.0" width="2" height="82.0"/>
<rect x="219" y="91.0" width="6" height="60.0"/>
<rect x="230" y="151.0" width="2" height="87.0"/>
<rect x="228" y="151.0" width="6" height="87.0"/>
<rect x="268" y="84.0" width="2" height="47.0"/>
<rect x="266" y="88.0" width="6" height="19.0"/>
<rect x="277" y="107.0" width="2" height="103.0"/>
<rect x="275" y="107.0" width="6" height="93.0"/>
<rect x="296" y="124.0" width="2" height="125.0"/>
<rect x="294" y="147.0" width="6" height="95.0"/>
<rect x="305" y="204.0" width="2" height="72.0"/>
<rect x="303" y="238.0" width="6" height="5.0"/>
<rect x="324" y="216.0" width="2" height="86.0"/>
<rect x="322" y="224.0" width="6" height="26.0"/>
<rect x="342" y="160.0" width="2" height="56.0"/>
<rect x="340" y="164.0" width="6" height="44.0"/>
<rect x="351" y="203.0" width="2" height="403.0"/>
<rect x="349" y="210.0" width="6" height="267.0"/>
<rect x="370" y="411.0" width="2" height="46.0"/>
<rect x="368" y="421.0" width="6" height="30.0"/>
<rect x="389" y="444.0" width="2" height="56.0"/>
<rect x="387" y="451.0" width="6" height="13.0"/>
<rect x="407" y="405.0" width="2" height="36.0"/>
<rect x="405" y="428.0" width="6" height="4.0"/>
<rect x="417" y="421.0" width="2" height="56.0"/>
<rect x="415" y="431.0" width="6" height="26.0"/>
<rect x="426" y="448.0" width="2" height="33.0"/>
<rect x="424" y="457.0" width="6" height="4.0"/>
<rect x="500" y="487.0" width="2" height="27.0"/>
<rect x="498" y="495.0" width="6" height="2.0"/>
<rect x="510" y="474.0" width="2" height="72.0"/>
<rect x="508" y="497.0" width="6" height="27.0"/>
<rect x="519" y="520.0" width="2" height="79.0"/>
<rect x="517" y="524.0" width="6" height="36.0"/>
<rect x="538" y="533.0" width="2" height="33.0"/>
<rect x="536" y="550.0" width="6" height="13.0"/>
<rect x="556" y="481.0" width="2" height="43.0"/>
<rect x="554" y="501.0" width="6" height="16.0"/>
<rect x="584" y="481.0" width="2" height="36.0"/>
<rect x="582" y="488.0" width="6" height="29.0"/>
<rect x="594" y="510.0" width="2" height="86.0"/>
<rect x="592" y="517.0" width="6" height="73.0"/>
<rect x="603" y="554.0" width="2" height="135.0"/>
<rect x="601" y="590.0" width="6" height="13.0"/>
<rect x="612" y="593.0" width="2" height="82.0"/>
<rect x="610" y="606.0" width="6" height="61.0"/>
<rect x="631" y="517.0" width="2" height="79.0"/>
<rect x="629" y="517.0" width="6" height="67.0"/>
<rect x="640" y="570.0" width="2" height="76.0"/>
<rect x="638" y="583.0" width="6" height="57.0"/>
<rect x="668" y="372.0" width="2" height="128.0"/>
<rect x="666" y="379.0" width="6" height="89.0"/>
<rect x="677" y="448.0" width="2" height="194.0"/>
<rect x="675" y="468.0" width="6" height="113.0"/>
<rect x="696" y="507.0" width="2" height="79.0"/>
<rect x="694" y="541.0" width="6" height="40.0"/>
<rect x="715" y="527.0" width="2" height="89.0"/>
<rect x="713" y="576.0" width="6" height="15.0"/>
<rect x="724" y="580.0" width="2" height="152.0"/>
<rect x="722" y="590.0" width="6" height="116.0"/>
<rect x="733" y="695.0" width="2" height="251.0"/>
<rect x="731" y="702.0" width="6" height="158.0"/>
<rect x="752" y="850.0" width="2" height="50.0"/>
<rect x="750" y="858.0" width="6" height="10.0"/>
<rect x="761" y="858.0" width="2" height="148.0"/>
<rect x="759" y="864.0" width="6" height="49.0"/>
<rect x="808" y="758.0" width="2" height="142.0"/>
<rect x="806" y="758.0" width="6" height="110.0"/>
<rect x="826" y="841.0" width="2" height="51.0"/>
<rect x="824" y="850.0" width="6" height="34.0"/>
<rect x="854" y="766.0" width="2" height="42.0"/>
<rect x="852" y="766.0" width="6" height="29.0"/>
<rect x="864" y="761.0" width="2" height="49.0"/>
<rect x="862" y="795.0" width="6" height="10.0"/>
<rect x="882" y="801.0" width="2" height="43.0"/>
<rect x="880" y="805.0" width="6" height="27.0"/>
<rect x="910" y="527.0" width="2" height="119.0"/>
<rect x="908" y="619.0" width="6" height="14.0"/>
<rect x="929" y="596.0" width="2" height="152.0"/>
<rect x="927" y="599.0" width="6" height="107.0"/>
<rect x="975" y="474.0" width="2" height="89.0"/>
<rect x="973" y="507.0" width="6" height="41.0"/>
<rect x="1003" y="306.0" width="2" height="237.0"/>
<rect x="1001" y="316.0" width="6" height="145.0"/>
<rect x="1012" y="444.0" width="2" height="129.0"/>
<rect x="1010" y="455.0" width="6" height="9.0"/>
<rect x="1040" y="438.0" width="2" height="171.0"/>
<rect x="1038" y="441.0" width="6" height="103.0"/>
<rect x="1050" y="467.0" width="2" height="265.0"/>
<rect x="1048" y="540.0" width="6" height="166.0"/>
<rect x="1059" y="699.0" width="2" height="132.0"/>
<rect x="1057" y="705.0" width="6" height="61.0"/>
<rect x="1078" y="715.0" width="2" height="78.0"/>
<rect x="1076" y="745.0" width="6" height="7.0"/>
<rect x="1106" y="705.0" width="2" height="88.0"/>
<rect x="1104" y="708.0" width="6" height="11.0"/>
<rect x="1124" y="685.0" width="2" height="85.0"/>
<rect x="1122" y="705.0" width="6" height="11.0"/>
<rect x="1161" y="540.0" width="2" height="168.0"/>
<rect x="1159" y="540.0" width="6" height="130.0"/>
<rect x="1199" y="438.0" width="2" height="56.0"/>
<rect x="1197" y="448.0" width="6" height="16.0"/>
<rect x="1217" y="431.0" width="2" height="175.0"/>
<rect x="1215" y="455.0" width="6" height="121.0"/>
<rect x="1236" y="524.0" width="2" height="148.0"/>
<rect x="1234" y="570.0" width="6" height="77.0"/>
<rect x="1255" y="547.0" width="2" height="105.0"/>
<rect x="1253" y="557.0" width="6" height="57.0"/>
<rect x="1292" y="510.0" width="2" height="80.0"/>
<rect x="1290" y="530.0" width="6" height="46.0"/>
<rect x="1301" y="537.0" width="2" height="145.0"/>
<rect x="1299" y="576.0" width="6" height="94.0"/>
<rect x="1320" y="566.0" width="2" height="100.0"/>
<rect x="1318" y="596.0" width="6" height="40.0"/>
<rect x="1329" y="619.0" width="2" height="47.0"/>
<rect x="1327" y="636.0" width="6" height="21.0"/>
<rect x="1338" y="639.0" width="2" height="122.0"/>
<rect x="1336" y="656.0" width="6" height="80.0"/>
<rect x="1366" y="675.0" width="2" height="90.0"/>
<rect x="1364" y="685.0" width="6" height="61.0"/>
<rect x="1413" y="527.0" width="2" height="99.0"/>
<rect x="1411" y="566.0" width="6" height="4.0"/>
<rect x="1422" y="557.0" width="2" height="52.0"/>
<rect x="1420" y="563.0" width="6" height="33.0"/>
<rect x="1431" y="580.0" width="2" height="56.0"/>
<rect x="1429" y="596.0" width="6" height="11.0"/>
<rect x="1450" y="540.0" width="2" height="260.0"/>
<rect x="1448" y="566.0" width="6" height="215.0"/>
<rect x="1506" y="576.0" width="2" height="73.0"/>
<rect x="1504" y="583.0" width="6" height="20.0"/>
<rect x="1525" y="590.0" width="2" height="43.0"/>
<rect x="1523" y="600.0" width="6" height="27.0"/>
<rect x="1543" y="619.0" width="2" height="116.0"/>
<rect x="1541" y="626.0" width="6" height="80.0"/>
<rect x="1571" y="639.0" width="2" height="60.0"/>
<rect x="1569" y="672.0" width="6" height="8.0"/>
<rect x="1590" y="659.0" width="2" height="40.0"/>
<rect x="1588" y="669.0" width="6" height="17.0"/>
<rect x="1599" y="679.0" width="2" height="36.0"/>
<rect x="1597" y="682.0" width="6" height="7.0"/>
<rect x="1618" y="656.0" width="2" height="105.0"/>
<rect x="1616" y="675.0" width="6" height="77.0"/>
<rect x="1646" y="699.0" width="2" height="23.0"/>
<rect x="1644" y="705.0" width="6" height="13.0"/>
<rect x="1664" y="656.0" width="2" height="56.0"/>
<rect x="1662" y="682.0" width="6" height="24.0"/>
<rect x="1692" y="675.0" width="2" height="33.0"/>
<rect x="1690" y="682.0" width="6" height="7.0"/>
<rect x="1701" y="685.0" width="2" height="56.0"/>
<rect x="1699" y="692.0" width="6" height="31.0"/>
<rect x="1720" y="560.0" width="2" height="256.0"/>
<rect x="1718" y="702.0" width="6" height="54.0"/>
<rect x="1729" y="725.0" width="2" height="73.0"/>
<rect x="1727" y="755.0" width="6" height="26.0"/>
<rect x="1748" y="738.0" width="2" height="56.0"/>
<rect x="1746" y="751.0" width="6" height="27.0"/>
<rect x="1776" y="755.0" width="2" height="39.0"/>
<rect x="1774" y="762.0" width="6" height="4.0"/>
<rect x="1794" y="718.0" width="2" height="43.0"/>
<rect x="1792" y="725.0" width="6" height="13.0"/>
<rect x="1822" y="600.0" width="2" height="62.0"/>
<rect x="1820" y="626.0" width="6" height="21.0"/>
<rect x="1832" y="636.0" width="2" height="56.0"/>
<rect x="1830" y="646.0" width="6" height="7.0"/>
<rect x="1841" y="653.0" width="2" height="32.0"/>
<rect x="1839" y="653.0" width="6" height="3.0"/>
<rect x="1850" y="642.0" width="2" height="40.0"/>
<rect x="1848" y="659.0" width="6" height="3.0"/>
<rect x="1860" y="619.0" width="2" height="109.0"/>
<rect x="1858" y="662.0" width="6" height="24.0"/>
<rect x="1878" y="659.0" width="2" height="43.0"/>
<rect x="1876" y="666.0" width="6" height="3.0"/>
<rect x="1888" y="666.0" width="2" height="39.0"/>
<rect x="1886" y="669.0" width="6" height="31.0"/>
<rect x="1897" y="696.0" width="2" height="62.0"/>
<rect x="1895" y="696.0" width="6" height="22.0"/>
<rect x="1925" y="662.0" width="2" height="70.0"/>
<rect x="1923" y="685.0" width="6" height="21.0"/>
<rect x="1981" y="573.0" width="2" height="86.0"/>
<rect x="1979" y="576.0" width="6" height="43.0"/>
<rect x="1990" y="600.0" width="2" height="39.0"/>
<rect x="1988" y="619.0" width="6" height="10.0"/>
<rect x="2018" y="395.0" width="2" height="125.0"/>
<rect x="2016" y="435.0" width="6" height="60.0"/>
<rect x="2037" y="418.0" width="2" height="66.0"/>
<rect x="2035" y="438.0" width="6" height="7.0"/>
<rect x="2046" y="444.0" width="2" height="73.0"/>
<rect x="2044" y="448.0" width="6" height="57.0"/>
<rect x="2055" y="497.0" width="2" height="138.0"/>
<rect x="2053" y="497.0" width="6" height="112.0"/>
<rect x="2064" y="558.0" width="2" height="88.0"/>
<rect x="2062" y="609.0" width="6" height="11.0"/>
<rect x="2074" y="590.0" width="2" height="66.0"/>
<rect x="2072" y="616.0" width="6" height="7.0"/>
<rect x="2083" y="609.0" width="2" height="109.0"/>
<rect x="2081" y="623.0" width="6" height="37.0"/>
<rect x="2111" y="613.0" width="2" height="62.0"/>
<rect x="2109" y="620.0" width="6" height="32.0"/>
<rect x="2130" y="442.0" width="2" height="177.0"/>
<rect x="2128" y="451.0" width="6" height="31.0"/>
<rect x="2167" y="395.0" width="2" height="109.0"/>
<rect x="2165" y="408.0" width="6" height="80.0"/>
<rect x="2185" y="438.0" width="2" height="62.0"/>
<rect x="2183" y="471.0" width="6" height="11.0"/>
<rect x="2204" y="398.0" width="2" height="53.0"/>
<rect x="2202" y="405.0" width="6" height="30.0"/>
<rect x="2213" y="424.0" width="2" height="33.0"/>
<rect x="2211" y="438.0" width="6" height="4.0"/>
<rect x="2223" y="435.0" width="2" height="108.0"/>
<rect x="2221" y="441.0" width="6" height="54.0"/>
<rect x="2241" y="464.0" width="2" height="43.0"/>
<rect x="2239" y="471.0" width="6" height="11.0"/>
<rect x="2251" y="474.0" width="2" height="102.0"/>
<rect x="2249" y="484.0" width="6" height="46.0"/>
<rect x="2260" y="520.0" width="2" height="45.0"/>
<rect x="2258" y="524.0" width="6" height="36.0"/>
<rect x="2297" y="504.0" width="2" height="82.0"/>
<rect x="2295" y="524.0" width="6" height="43.0"/>
<rect x="2307" y="550.0" width="2" height="43.0"/>
<rect x="2305" y="566.0" width="6" height="11.0"/>
<rect x="2316" y="557.0" width="2" height="49.0"/>
<rect x="2314" y="580.0" width="6" height="16.0"/>
<rect x="2325" y="580.0" width="2" height="36.0"/>
<rect x="2323" y="599.0" width="6" height="4.0"/>
<rect x="2344" y="573.0" width="2" height="20.0"/>
<rect x="2342" y="580.0" width="6" height="3.0"/>
<rect x="2381" y="547.0" width="2" height="36.0"/>
<rect x="2379" y="558.0" width="6" height="19.0"/>
<rect x="2400" y="566.0" width="2" height="60.0"/>
<rect x="2398" y="576.0" width="6" height="31.0"/>
<rect x="2428" y="580.0" width="2" height="39.0"/>
<rect x="2426" y="593.0" width="6" height="7.0"/>
<rect x="2474" y="560.0" width="2" height="39.0"/>
<rect x="2472" y="570.0" width="6" height="7.0"/>
<rect x="2493" y="563.0" width="2" height="27.0"/>
<rect x="2491" y="573.0" width="6" height="14.0"/>
<rect x="2549" y="497.0" width="2" height="36.0"/>
<rect x="2547" y="500.0" width="6" height="18.0"/>
<rect x="2558" y="504.0" width="2" height="29.0"/>
<rect x="2556" y="520.0" width="6" height="4.0"/>
<rect x="2576" y="520.0" width="2" height="33.0"/>
<rect x="2574" y="524.0" width="6" height="16.0"/>
<rect x="2586" y="524.0" width="2" height="161.0"/>
<rect x="2584" y="540.0" width="6" height="96.0"/>
<rect x="2604" y="583.0" width="2" height="39.0"/>
<rect x="2602" y="590.0" width="6" height="17.0"/>
<rect x="2623" y="557.0" width="2" height="46.0"/>
<rect x="2621" y="584.0" width="6" height="7.0"/>
<rect x="2642" y="560.0" width="2" height="30.0"/>
<rect x="2640" y="563.0" width="6" height="14.0"/>
<rect x="2679" y="497.0" width="2" height="29.0"/>
<rect x="2677" y="510.0" width="6" height="14.0"/>
<rect x="2707" y="408.0" width="2" height="59.0"/>
<rect x="2705" y="421.0" width="6" height="40.0"/>
</g>
<rect x="26" y="40.0" width="2" height="34.0" fill="#26a69a"/>
<rect x="24" y="40.0" width="6" height="10.0" fill="#9598a1"/>
<rect x="26" y="42.0" width="2" height="6.0" fill="#26a69a"/>
<rect x="44" y="40.0" width="2" height="113.0" fill="#26a69a"/>
<rect x="42" y="88.0" width="6" height="3.0" fill="#9598a1"/>
<rect x="63" y="84.0" width="2" height="137.0" fill="#26a69a"/>
<rect x="61" y="94.0" width="6" height="70.0" fill="#9598a1"/>
<rect x="63" y="96.0" width="2" height="66.0" fill="#26a69a"/>
<rect x="72" y="40.0" width="2" height="81.0" fill="#26a69a"/>
<rect x="70" y="40.0" width="6" height="54.0" fill="#9598a1"/>
<rect x="72" y="42.0" width="2" height="50.0" fill="#26a69a"/>
<rect x="91" y="40.0" width="2" height="51.0" fill="#26a69a"/>
<rect x="89" y="40.0" width="6" height="51.0" fill="#9598a1"/>
<rect x="91" y="42.0" width="2" height="47.0" fill="#26a69a"/>
<rect x="100" y="40.0" width="2" height="54.0" fill="#26a69a"/>
<rect x="98" y="68.0" width="6" height="2.0" fill="#9598a1"/>
<rect x="109" y="40.0" width="2" height="65.0" fill="#26a69a"/>
<rect x="107" y="40.0" width="6" height="30.0" fill="#9598a1"/>
<rect x="109" y="42.0" width="2" height="26.0" fill="#26a69a"/>
<rect x="119" y="30.0" width="2" height="25.0" fill="#26a69a"/>
<rect x="117" y="40.0" width="6" height="10.0" fill="#9598a1"/>
<rect x="119" y="42.0" width="2" height="6.0" fill="#26a69a"/>
<rect x="128" y="30.0" width="2" height="25.0" fill="#26a69a"/>
<rect x="126" y="40.0" width="6" height="10.0" fill="#9598a1"/>
<rect x="128" y="42.0" width="2" height="6.0" fill="#26a69a"/>
<rect x="156" y="30.0" width="2" height="25.0" fill="#26a69a"/>
<rect x="154" y="40.0" width="6" height="10.0" fill="#9598a1"/>
<rect x="156" y="42.0" width="2" height="6.0" fill="#26a69a"/>
<rect x="175" y="40.0" width="2" height="81.0" fill="#26a69a"/>
<rect x="173" y="40.0" width="6" height="61.0" fill="#9598a1"/>
<rect x="175" y="42.0" width="2" height="57.0" fill="#26a69a"/>
<rect x="184" y="40.0" width="2" height="41.0" fill="#26a69a"/>
<rect x="182" y="40.0" width="6" height="10.0" fill="#9598a1"/>
<rect x="184" y="42.0" width="2" height="6.0" fill="#26a69a"/>
<rect x="203" y="91.0" width="2" height="53.0" fill="#26a69a"/>
<rect x="201" y="99.0" width="6" height="12.0" fill="#9598a1"/>
<rect x="203" y="101.0" width="2" height="8.0" fill="#26a69a"/>
<rect x="212" y="74.0" width="2" height="50.0" fill="#26a69a"/>
<rect x="210" y="94.0" width="6" height="2.0" fill="#9598a1"/>
<rect x="240" y="148.0" width="2" height="105.0" fill="#26a69a"/>
<rect x="238" y="148.0" width="6" height="72.0" fill="#9598a1"/>
<rect x="240" y="150.0" width="2" height="68.0" fill="#26a69a"/>
<rect x="249" y="101.0" width="2" height="52.0" fill="#26a69a"/>
<rect x="247" y="118.0" width="6" height="29.0" fill="#9598a1"/>
<rect x="249" y="120.0" width="2" height="25.0" fill="#26a69a"/>
<rect x="258" y="85.0" width="2" height="42.0" fill="#26a69a"/>
<rect x="256" y="85.0" width="6" height="36.0" fill="#9598a1"/>
<rect x="258" y="87.0" width="2" height="32.0" fill="#26a69a"/>
<rect x="286" y="134.0" width="2" height="73.0" fill="#26a69a"/>
<rect x="284" y="145.0" width="6" height="54.0" fill="#9598a1"/>
<rect x="286" y="147.0" width="2" height="50.0" fill="#26a69a"/>
<rect x="314" y="220.0" width="2" height="46.0" fill="#26a69a"/>
<rect x="312" y="224.0" width="6" height="19.0" fill="#9598a1"/>
<rect x="314" y="226.0" width="2" height="15.0" fill="#26a69a"/>
<rect x="333" y="147.0" width="2" height="169.0" fill="#26a69a"/>
<rect x="331" y="164.0" width="6" height="89.0" fill="#9598a1"/>
<rect x="333" y="166.0" width="2" height="85.0" fill="#26a69a"/>
<rect x="361" y="391.0" width="2" height="93.0" fill="#26a69a"/>
<rect x="359" y="425.0" width="6" height="56.0" fill="#9598a1"/>
<rect x="361" y="427.0" width="2" height="52.0" fill="#26a69a"/>
<rect x="379" y="415.0" width="2" height="62.0" fill="#26a69a"/>
<rect x="377" y="451.0" width="6" height="2.0" fill="#9598a1"/>
<rect x="398" y="421.0" width="2" height="79.0" fill="#26a69a"/>
<rect x="396" y="432.0" width="6" height="35.0" fill="#9598a1"/>
<rect x="398" y="434.0" width="2" height="31.0" fill="#26a69a"/>
<rect x="435" y="441.0" width="2" height="30.0" fill="#26a69a"/>
<rect x="433" y="461.0" width="6" height="2.0" fill="#9598a1"/>
<rect x="445" y="451.0" width="2" height="16.0" fill="#26a69a"/>
<rect x="443" y="457.0" width="6" height="4.0" fill="#9598a1"/>
<rect x="454" y="514.0" width="2" height="92.0" fill="#26a69a"/>
<rect x="452" y="517.0" width="6" height="10.0" fill="#9598a1"/>
<rect x="454" y="519.0" width="2" height="6.0" fill="#26a69a"/>
<rect x="463" y="454.0" width="2" height="106.0" fill="#26a69a"/>
<rect x="461" y="497.0" width="6" height="20.0" fill="#9598a1"/>
<rect x="463" y="499.0" width="2" height="16.0" fill="#26a69a"/>
<rect x="473" y="467.0" width="2" height="37.0" fill="#26a69a"/>
<rect x="471" y="497.0" width="6" height="2.0" fill="#9598a1"/>
<rect x="482" y="481.0" width="2" height="43.0" fill="#26a69a"/>
<rect x="480" y="492.0" width="6" height="5.0" fill="#9598a1"/>
<rect x="482" y="494.0" width="2" height="1.0" fill="#26a69a"/>
<rect x="491" y="464.0" width="2" height="33.0" fill="#26a69a"/>
<rect x="489" y="492.0" width="6" height="3.0" fill="#9598a1"/>
<rect x="528" y="530.0" width="2" height="60.0" fill="#26a69a"/>
<rect x="526" y="548.0" width="6" height="9.0" fill="#9598a1"/>
<rect x="528" y="550.0" width="2" height="5.0" fill="#26a69a"/>
<rect x="547" y="494.0" width="2" height="86.0" fill="#26a69a"/>
<rect x="545" y="501.0" width="6" height="59.0" fill="#9598a1"/>
<rect x="547" y="503.0" width="2" height="55.0" fill="#26a69a"/>
<rect x="566" y="494.0" width="2" height="52.0" fill="#26a69a"/>
<rect x="564" y="508.0" width="6" height="9.0" fill="#9598a1"/>
<rect x="566" y="510.0" width="2" height="5.0" fill="#26a69a"/>
<rect x="575" y="457.0" width="2" height="60.0" fill="#26a69a"/>
<rect x="573" y="488.0" width="6" height="16.0" fill="#9598a1"/>
<rect x="575" y="490.0" width="2" height="12.0" fill="#26a69a"/>
<rect x="621" y="507.0" width="2" height="182.0" fill="#26a69a"/>
<rect x="619" y="517.0" width="6" height="150.0" fill="#9598a1"/>
<rect x="621" y="519.0" width="2" height="146.0" fill="#26a69a"/>
<rect x="649" y="441.0" width="2" height="208.0" fill="#26a69a"/>
<rect x="647" y="484.0" width="6" height="152.0" fill="#9598a1"/>
<rect x="649" y="486.0" width="2" height="148.0" fill="#26a69a"/>
<rect x="659" y="329.0" width="2" height="191.0" fill="#26a69a"/>
<rect x="657" y="379.0" width="6" height="109.0" fill="#9598a1"/>
<rect x="659" y="381.0" width="2" height="105.0" fill="#26a69a"/>
<rect x="687" y="524.0" width="2" height="82.0" fill="#26a69a"/>
<rect x="685" y="541.0" width="6" height="40.0" fill="#9598a1"/>
<rect x="687" y="543.0" width="2" height="36.0" fill="#26a69a"/>
<rect x="705" y="560.0" width="2" height="73.0" fill="#26a69a"/>
<rect x="703" y="581.0" width="6" height="2.0" fill="#9598a1"/>
<rect x="742" y="814.0" width="2" height="122.0" fill="#26a69a"/>
<rect x="740" y="858.0" width="6" height="2.0" fill="#9598a1"/>
<rect x="770" y="768.0" width="2" height="162.0" fill="#26a69a"/>
<rect x="768" y="832.0" width="6" height="81.0" fill="#9598a1"/>
<rect x="770" y="834.0" width="2" height="77.0" fill="#26a69a"/>
<rect x="780" y="784.0" width="2" height="70.0" fill="#26a69a"/>
<rect x="778" y="808.0" width="6" height="26.0" fill="#9598a1"/>
<rect x="780" y="810.0" width="2" height="22.0" fill="#26a69a"/>
<rect x="789" y="751.0" width="2" height="99.0" fill="#26a69a"/>
<rect x="787" y="781.0" width="6" height="28.0" fill="#9598a1"/>
<rect x="789" y="783.0" width="2" height="24.0" fill="#26a69a"/>
<rect x="798" y="669.0" width="2" height="119.0" fill="#26a69a"/>
<rect x="796" y="758.0" width="6" height="26.0" fill="#9598a1"/>
<rect x="798" y="760.0" width="2" height="22.0" fill="#26a69a"/>
<rect x="817" y="814.0" width="2" height="63.0" fill="#26a69a"/>
<rect x="815" y="850.0" width="6" height="20.0" fill="#9598a1"/>
<rect x="817" y="852.0" width="2" height="16.0" fill="#26a69a"/>
<rect x="836" y="791.0" width="2" height="109.0" fill="#26a69a"/>
<rect x="834" y="802.0" width="6" height="85.0" fill="#9598a1"/>
<rect x="836" y="804.0" width="2" height="81.0" fill="#26a69a"/>
<rect x="845" y="758.0" width="2" height="56.0" fill="#26a69a"/>
<rect x="843" y="766.0" width="6" height="39.0" fill="#9598a1"/>
<rect x="845" y="768.0" width="2" height="35.0" fill="#26a69a"/>
<rect x="873" y="788.0" width="2" height="26.0" fill="#26a69a"/>
<rect x="871" y="802.0" width="6" height="6.0" fill="#9598a1"/>
<rect x="873" y="804.0" width="2" height="2.0" fill="#26a69a"/>
<rect x="891" y="675.0" width="2" height="175.0" fill="#26a69a"/>
<rect x="889" y="758.0" width="6" height="74.0" fill="#9598a1"/>
<rect x="891" y="760.0" width="2" height="70.0" fill="#26a69a"/>
<rect x="901" y="593.0" width="2" height="167.0" fill="#26a69a"/>
<rect x="899" y="619.0" width="6" height="136.0" fill="#9598a1"/>
<rect x="901" y="621.0" width="2" height="132.0" fill="#26a69a"/>
<rect x="919" y="576.0" width="2" height="60.0" fill="#26a69a"/>
<rect x="917" y="596.0" width="6" height="40.0" fill="#9598a1"/>
<rect x="919" y="598.0" width="2" height="36.0" fill="#26a69a"/>
<rect x="938" y="464.0" width="2" height="281.0" fill="#26a69a"/>
<rect x="936" y="540.0" width="6" height="168.0" fill="#9598a1"/>
<rect x="938" y="542.0" width="2" height="164.0" fill="#26a69a"/>
<rect x="947" y="494.0" width="2" height="99.0" fill="#26a69a"/>
<rect x="945" y="537.0" width="6" height="7.0" fill="#9598a1"/>
<rect x="947" y="539.0" width="2" height="3.0" fill="#26a69a"/>
<rect x="957" y="484.0" width="2" height="76.0" fill="#26a69a"/>
<rect x="955" y="527.0" width="6" height="6.0" fill="#9598a1"/>
<rect x="957" y="529.0" width="2" height="2.0" fill="#26a69a"/>
<rect x="966" y="491.0" width="2" height="62.0" fill="#26a69a"/>
<rect x="964" y="504.0" width="6" height="23.0" fill="#9598a1"/>
<rect x="966" y="506.0" width="2" height="19.0" fill="#26a69a"/>
<rect x="985" y="527.0" width="2" height="66.0" fill="#26a69a"/>
<rect x="983" y="537.0" width="6" height="11.0" fill="#9598a1"/>
<rect x="985" y="539.0" width="2" height="7.0" fill="#26a69a"/>
<rect x="994" y="279.0" width="2" height="291.0" fill="#26a69a"/>
<rect x="992" y="316.0" width="6" height="221.0" fill="#9598a1"/>
<rect x="994" y="318.0" width="2" height="217.0" fill="#26a69a"/>
<rect x="1022" y="401.0" width="2" height="116.0" fill="#26a69a"/>
<rect x="1020" y="441.0" width="6" height="20.0" fill="#9598a1"/>
<rect x="1022" y="443.0" width="2" height="16.0" fill="#26a69a"/>
<rect x="1031" y="418.0" width="2" height="59.0" fill="#26a69a"/>
<rect x="1029" y="441.0" width="6" height="2.0" fill="#9598a1"/>
<rect x="1068" y="712.0" width="2" height="68.0" fill="#26a69a"/>
<rect x="1066" y="741.0" width="6" height="25.0" fill="#9598a1"/>
<rect x="1068" y="743.0" width="2" height="21.0" fill="#26a69a"/>
<rect x="1087" y="705.0" width="2" height="109.0" fill="#26a69a"/>
<rect x="1085" y="728.0" width="6" height="20.0" fill="#9598a1"/>
<rect x="1087" y="730.0" width="2" height="16.0" fill="#26a69a"/>
<rect x="1096" y="692.0" width="2" height="86.0" fill="#26a69a"/>
<rect x="1094" y="712.0" width="6" height="20.0" fill="#9598a1"/>
<rect x="1096" y="714.0" width="2" height="16.0" fill="#26a69a"/>
<rect x="1115" y="679.0" width="2" height="69.0" fill="#26a69a"/>
<rect x="1113" y="705.0" width="6" height="13.0" fill="#9598a1"/>
<rect x="1115" y="707.0" width="2" height="9.0" fill="#26a69a"/>
<rect x="1134" y="603.0" width="2" height="138.0" fill="#26a69a"/>
<rect x="1132" y="640.0" width="6" height="76.0" fill="#9598a1"/>
<rect x="1134" y="642.0" width="2" height="72.0" fill="#26a69a"/>
<rect x="1143" y="599.0" width="2" height="83.0" fill="#26a69a"/>
<rect x="1141" y="626.0" width="6" height="17.0" fill="#9598a1"/>
<rect x="1143" y="628.0" width="2" height="13.0" fill="#26a69a"/>
<rect x="1152" y="530.0" width="2" height="119.0" fill="#26a69a"/>
<rect x="1150" y="543.0" width="6" height="86.0" fill="#9598a1"/>
<rect x="1152" y="545.0" width="2" height="82.0" fill="#26a69a"/>
<rect x="1171" y="613.0" width="2" height="76.0" fill="#26a69a"/>
<rect x="1169" y="619.0" width="6" height="54.0" fill="#9598a1"/>
<rect x="1171" y="621.0" width="2" height="50.0" fill="#26a69a"/>
<rect x="1180" y="481.0" width="2" height="158.0" fill="#26a69a"/>
<rect x="1178" y="510.0" width="6" height="109.0" fill="#9598a1"/>
<rect x="1180" y="512.0" width="2" height="105.0" fill="#26a69a"/>
<rect x="1189" y="424.0" width="2" height="133.0" fill="#26a69a"/>
<rect x="1187" y="452.0" width="6" height="56.0" fill="#9598a1"/>
<rect x="1189" y="454.0" width="2" height="52.0" fill="#26a69a"/>
<rect x="1208" y="452.0" width="2" height="88.0" fill="#26a69a"/>
<rect x="1206" y="452.0" width="6" height="12.0" fill="#9598a1"/>
<rect x="1208" y="454.0" width="2" height="8.0" fill="#26a69a"/>
<rect x="1227" y="540.0" width="2" height="129.0" fill="#26a69a"/>
<rect x="1225" y="570.0" width="6" height="4.0" fill="#9598a1"/>
<rect x="1245" y="550.0" width="2" height="96.0" fill="#26a69a"/>
<rect x="1243" y="553.0" width="6" height="90.0" fill="#9598a1"/>
<rect x="1245" y="555.0" width="2" height="86.0" fill="#26a69a"/>
<rect x="1264" y="566.0" width="2" height="63.0" fill="#26a69a"/>
<rect x="1262" y="574.0" width="6" height="40.0" fill="#9598a1"/>
<rect x="1264" y="576.0" width="2" height="36.0" fill="#26a69a"/>
<rect x="1273" y="533.0" width="2" height="70.0" fill="#26a69a"/>
<rect x="1271" y="550.0" width="6" height="26.0" fill="#9598a1"/>
<rect x="1273" y="552.0" width="2" height="22.0" fill="#26a69a"/>
<rect x="1282" y="491.0" width="2" height="66.0" fill="#26a69a"/>
<rect x="1280" y="530.0" width="6" height="18.0" fill="#9598a1"/>
<rect x="1282" y="532.0" width="2" height="14.0" fill="#26a69a"/>
<rect x="1310" y="590.0" width="2" height="112.0" fill="#26a69a"/>
<rect x="1308" y="596.0" width="6" height="74.0" fill="#9598a1"/>
<rect x="1310" y="598.0" width="2" height="70.0" fill="#26a69a"/>
<rect x="1348" y="685.0" width="2" height="53.0" fill="#26a69a"/>
<rect x="1346" y="722.0" width="6" height="10.0" fill="#9598a1"/>
<rect x="1348" y="724.0" width="2" height="6.0" fill="#26a69a"/>
<rect x="1357" y="666.0" width="2" height="69.0" fill="#26a69a"/>
<rect x="1355" y="689.0" width="6" height="33.0" fill="#9598a1"/>
<rect x="1357" y="691.0" width="2" height="29.0" fill="#26a69a"/>
<rect x="1376" y="669.0" width="2" height="111.0" fill="#26a69a"/>
<rect x="1374" y="675.0" width="6" height="71.0" fill="#9598a1"/>
<rect x="1376" y="677.0" width="2" height="67.0" fill="#26a69a"/>
<rect x="1385" y="524.0" width="2" height="175.0" fill="#26a69a"/>
<rect x="1383" y="610.0" width="6" height="65.0" fill="#9598a1"/>
<rect x="1385" y="612.0" width="2" height="61.0" fill="#26a69a"/>
<rect x="1394" y="514.0" width="2" height="128.0" fill="#26a69a"/>
<rect x="1392" y="590.0" width="6" height="20.0" fill="#9598a1"/>
<rect x="1394" y="592.0" width="2" height="16.0" fill="#26a69a"/>
<rect x="1403" y="540.0" width="2" height="66.0" fill="#26a69a"/>
<rect x="1401" y="566.0" width="6" height="24.0" fill="#9598a1"/>
<rect x="1403" y="568.0" width="2" height="20.0" fill="#26a69a"/>
<rect x="1441" y="550.0" width="2" height="73.0" fill="#26a69a"/>
<rect x="1439" y="566.0" width="6" height="44.0" fill="#9598a1"/>
<rect x="1441" y="568.0" width="2" height="40.0" fill="#26a69a"/>
<rect x="1459" y="669.0" width="2" height="129.0" fill="#26a69a"/>
<rect x="1457" y="685.0" width="6" height="99.0" fill="#9598a1"/>
<rect x="1459" y="687.0" width="2" height="95.0" fill="#26a69a"/>
<rect x="1469" y="642.0" width="2" height="60.0" fill="#26a69a"/>
<rect x="1467" y="689.0" width="6" height="2.0" fill="#9598a1"/>
<rect x="1478" y="639.0" width="2" height="56.0" fill="#26a69a"/>
<rect x="1476" y="642.0" width="6" height="47.0" fill="#9598a1"/>
<rect x="1478" y="644.0" width="2" height="43.0" fill="#26a69a"/>
<rect x="1487" y="590.0" width="2" height="69.0" fill="#26a69a"/>
<rect x="1485" y="624.0" width="6" height="15.0" fill="#9598a1"/>
<rect x="1487" y="626.0" width="2" height="11.0" fill="#26a69a"/>
<rect x="1497" y="560.0" width="2" height="122.0" fill="#26a69a"/>
<rect x="1495" y="583.0" width="6" height="41.0" fill="#9598a1"/>
<rect x="1497" y="585.0" width="2" height="37.0" fill="#26a69a"/>
<rect x="1515" y="596.0" width="2" height="37.0" fill="#26a69a"/>
<rect x="1513" y="603.0" width="6" height="3.0" fill="#9598a1"/>
<rect x="1534" y="613.0" width="2" height="26.0" fill="#26a69a"/>
<rect x="1532" y="626.0" width="6" height="4.0" fill="#9598a1"/>
<rect x="1552" y="659.0" width="2" height="59.0" fill="#26a69a"/>
<rect x="1550" y="693.0" width="6" height="9.0" fill="#9598a1"/>
<rect x="1552" y="695.0" width="2" height="5.0" fill="#26a69a"/>
<rect x="1562" y="669.0" width="2" height="98.0" fill="#26a69a"/>
<rect x="1560" y="669.0" width="6" height="27.0" fill="#9598a1"/>
<rect x="1562" y="671.0" width="2" height="23.0" fill="#26a69a"/>
<rect x="1580" y="649.0" width="2" height="46.0" fill="#26a69a"/>
<rect x="1578" y="669.0" width="6" height="11.0" fill="#9598a1"/>
<rect x="1580" y="671.0" width="2" height="7.0" fill="#26a69a"/>
<rect x="1608" y="659.0" width="2" height="53.0" fill="#26a69a"/>
<rect x="1606" y="672.0" width="6" height="21.0" fill="#9598a1"/>
<rect x="1608" y="674.0" width="2" height="17.0" fill="#26a69a"/>
<rect x="1627" y="712.0" width="2" height="43.0" fill="#26a69a"/>
<rect x="1625" y="715.0" width="6" height="40.0" fill="#9598a1"/>
<rect x="1627" y="717.0" width="2" height="36.0" fill="#26a69a"/>
<rect x="1636" y="689.0" width="2" height="39.0" fill="#26a69a"/>
<rect x="1634" y="708.0" width="6" height="7.0" fill="#9598a1"/>
<rect x="1636" y="710.0" width="2" height="3.0" fill="#26a69a"/>
<rect x="1655" y="685.0" width="2" height="37.0" fill="#26a69a"/>
<rect x="1653" y="689.0" width="6" height="26.0" fill="#9598a1"/>
<rect x="1655" y="691.0" width="2" height="22.0" fill="#26a69a"/>
<rect x="1673" y="685.0" width="2" height="40.0" fill="#26a69a"/>
<rect x="1671" y="689.0" width="6" height="13.0" fill="#9598a1"/>
<rect x="1673" y="691.0" width="2" height="9.0" fill="#26a69a"/>
<rect x="1683" y="662.0" width="2" height="53.0" fill="#26a69a"/>
<rect x="1681" y="680.0" width="6" height="9.0" fill="#9598a1"/>
<rect x="1683" y="682.0" width="2" height="5.0" fill="#26a69a"/>
<rect x="1711" y="699.0" width="2" height="36.0" fill="#26a69a"/>
<rect x="1709" y="702.0" width="6" height="16.0" fill="#9598a1"/>
<rect x="1711" y="704.0" width="2" height="12.0" fill="#26a69a"/>
<rect x="1739" y="745.0" width="2" height="53.0" fill="#26a69a"/>
<rect x="1737" y="748.0" width="6" height="33.0" fill="#9598a1"/>
<rect x="1739" y="750.0" width="2" height="29.0" fill="#26a69a"/>
<rect x="1757" y="748.0" width="2" height="36.0" fill="#26a69a"/>
<rect x="1755" y="774.0" width="6" height="4.0" fill="#9598a1"/>
<rect x="1767" y="751.0" width="2" height="50.0" fill="#26a69a"/>
<rect x="1765" y="762.0" width="6" height="12.0" fill="#9598a1"/>
<rect x="1767" y="764.0" width="2" height="8.0" fill="#26a69a"/>
<rect x="1785" y="718.0" width="2" height="76.0" fill="#26a69a"/>
<rect x="1783" y="728.0" width="6" height="38.0" fill="#9598a1"/>
<rect x="1785" y="730.0" width="2" height="34.0" fill="#26a69a"/>
<rect x="1804" y="682.0" width="2" height="59.0" fill="#26a69a"/>
<rect x="1802" y="708.0" width="6" height="30.0" fill="#9598a1"/>
<rect x="1804" y="710.0" width="2" height="26.0" fill="#26a69a"/>
<rect x="1813" y="606.0" width="2" height="106.0" fill="#26a69a"/>
<rect x="1811" y="624.0" width="6" height="84.0" fill="#9598a1"/>
<rect x="1813" y="626.0" width="2" height="80.0" fill="#26a69a"/>
<rect x="1869" y="653.0" width="2" height="39.0" fill="#26a69a"/>
<rect x="1867" y="669.0" width="6" height="16.0" fill="#9598a1"/>
<rect x="1869" y="671.0" width="2" height="12.0" fill="#26a69a"/>
<rect x="1906" y="689.0" width="2" height="36.0" fill="#26a69a"/>
<rect x="1904" y="702.0" width="6" height="13.0" fill="#9598a1"/>
<rect x="1906" y="704.0" width="2" height="9.0" fill="#26a69a"/>
<rect x="1916" y="656.0" width="2" height="62.0" fill="#26a69a"/>
<rect x="1914" y="682.0" width="6" height="17.0" fill="#9598a1"/>
<rect x="1916" y="684.0" width="2" height="13.0" fill="#26a69a"/>
<rect x="1934" y="689.0" width="2" height="23.0" fill="#26a69a"/>
<rect x="1932" y="699.0" width="6" height="7.0" fill="#9598a1"/>
<rect x="1934" y="701.0" width="2" height="3.0" fill="#26a69a"/>
<rect x="1943" y="633.0" width="2" height="69.0" fill="#26a69a"/>
<rect x="1941" y="649.0" width="6" height="50.0" fill="#9598a1"/>
<rect x="1943" y="651.0" width="2" height="46.0" fill="#26a69a"/>
<rect x="1953" y="639.0" width="2" height="23.0" fill="#26a69a"/>
<rect x="1951" y="642.0" width="6" height="7.0" fill="#9598a1"/>
<rect x="1953" y="644.0" width="2" height="3.0" fill="#26a69a"/>
<rect x="1962" y="566.0" width="2" height="83.0" fill="#26a69a"/>
<rect x="1960" y="614.0" width="6" height="25.0" fill="#9598a1"/>
<rect x="1962" y="616.0" width="2" height="21.0" fill="#26a69a"/>
<rect x="1971" y="577.0" width="2" height="52.0" fill="#26a69a"/>
<rect x="1969" y="577.0" width="6" height="37.0" fill="#9598a1"/>
<rect x="1971" y="579.0" width="2" height="33.0" fill="#26a69a"/>
<rect x="1999" y="510.0" width="2" height="125.0" fill="#26a69a"/>
<rect x="1997" y="541.0" width="6" height="88.0" fill="#9598a1"/>
<rect x="1999" y="543.0" width="2" height="84.0" fill="#26a69a"/>
<rect x="2009" y="382.0" width="2" height="180.0" fill="#26a69a"/>
<rect x="2007" y="435.0" width="6" height="109.0" fill="#9598a1"/>
<rect x="2009" y="437.0" width="2" height="105.0" fill="#26a69a"/>
<rect x="2027" y="391.0" width="2" height="106.0" fill="#26a69a"/>
<rect x="2025" y="435.0" width="6" height="62.0" fill="#9598a1"/>
<rect x="2027" y="437.0" width="2" height="58.0" fill="#26a69a"/>
<rect x="2092" y="629.0" width="2" height="43.0" fill="#26a69a"/>
<rect x="2090" y="629.0" width="6" height="33.0" fill="#9598a1"/>
<rect x="2092" y="631.0" width="2" height="29.0" fill="#26a69a"/>
<rect x="2102" y="599.0" width="2" height="34.0" fill="#26a69a"/>
<rect x="2100" y="616.0" width="6" height="17.0" fill="#9598a1"/>
<rect x="2102" y="618.0" width="2" height="13.0" fill="#26a69a"/>
<rect x="2120" y="325.0" width="2" height="357.0" fill="#26a69a"/>
<rect x="2118" y="451.0" width="6" height="205.0" fill="#9598a1"/>
<rect x="2120" y="453.0" width="2" height="201.0" fill="#26a69a"/>
<rect x="2139" y="424.0" width="2" height="112.0" fill="#26a69a"/>
<rect x="2137" y="464.0" width="6" height="20.0" fill="#9598a1"/>
<rect x="2139" y="466.0" width="2" height="16.0" fill="#26a69a"/>
<rect x="2148" y="391.0" width="2" height="129.0" fill="#26a69a"/>
<rect x="2146" y="428.0" width="6" height="36.0" fill="#9598a1"/>
<rect x="2148" y="430.0" width="2" height="32.0" fill="#26a69a"/>
<rect x="2158" y="365.0" width="2" height="89.0" fill="#26a69a"/>
<rect x="2156" y="415.0" width="6" height="17.0" fill="#9598a1"/>
<rect x="2158" y="417.0" width="2" height="13.0" fill="#26a69a"/>
<rect x="2176" y="461.0" width="2" height="46.0" fill="#26a69a"/>
<rect x="2174" y="468.0" width="6" height="20.0" fill="#9598a1"/>
<rect x="2176" y="470.0" width="2" height="16.0" fill="#26a69a"/>
<rect x="2195" y="398.0" width="2" height="119.0" fill="#26a69a"/>
<rect x="2193" y="405.0" width="6" height="79.0" fill="#9598a1"/>
<rect x="2195" y="407.0" width="2" height="75.0" fill="#26a69a"/>
<rect x="2232" y="461.0" width="2" height="69.0" fill="#26a69a"/>
<rect x="2230" y="471.0" width="6" height="26.0" fill="#9598a1"/>
<rect x="2232" y="473.0" width="2" height="22.0" fill="#26a69a"/>
<rect x="2269" y="540.0" width="2" height="66.0" fill="#26a69a"/>
<rect x="2267" y="554.0" width="6" height="6.0" fill="#9598a1"/>
<rect x="2269" y="556.0" width="2" height="2.0" fill="#26a69a"/>
<rect x="2279" y="524.0" width="2" height="75.0" fill="#26a69a"/>
<rect x="2277" y="530.0" width="6" height="27.0" fill="#9598a1"/>
<rect x="2279" y="532.0" width="2" height="23.0" fill="#26a69a"/>
<rect x="2288" y="500.0" width="2" height="60.0" fill="#26a69a"/>
<rect x="2286" y="520.0" width="6" height="10.0" fill="#9598a1"/>
<rect x="2288" y="522.0" width="2" height="6.0" fill="#26a69a"/>
<rect x="2334" y="570.0" width="2" height="43.0" fill="#26a69a"/>
<rect x="2332" y="580.0" width="6" height="19.0" fill="#9598a1"/>
<rect x="2334" y="582.0" width="2" height="15.0" fill="#26a69a"/>
<rect x="2353" y="570.0" width="2" height="26.0" fill="#26a69a"/>
<rect x="2351" y="577.0" width="6" height="6.0" fill="#9598a1"/>
<rect x="2353" y="579.0" width="2" height="2.0" fill="#26a69a"/>
<rect x="2362" y="547.0" width="2" height="59.0" fill="#26a69a"/>
<rect x="2360" y="557.0" width="6" height="20.0" fill="#9598a1"/>
<rect x="2362" y="559.0" width="2" height="16.0" fill="#26a69a"/>
<rect x="2372" y="530.0" width="2" height="33.0" fill="#26a69a"/>
<rect x="2370" y="557.0" width="6" height="2.0" fill="#9598a1"/>
<rect x="2390" y="560.0" width="2" height="26.0" fill="#26a69a"/>
<rect x="2388" y="574.0" width="6" height="3.0" fill="#9598a1"/>
<rect x="2409" y="590.0" width="2" height="36.0" fill="#26a69a"/>
<rect x="2407" y="599.0" width="6" height="4.0" fill="#9598a1"/>
<rect x="2418" y="570.0" width="2" height="33.0" fill="#26a69a"/>
<rect x="2416" y="593.0" width="6" height="10.0" fill="#9598a1"/>
<rect x="2418" y="595.0" width="2" height="6.0" fill="#26a69a"/>
<rect x="2437" y="590.0" width="2" height="23.0" fill="#26a69a"/>
<rect x="2435" y="593.0" width="6" height="7.0" fill="#9598a1"/>
<rect x="2437" y="595.0" width="2" height="3.0" fill="#26a69a"/>
<rect x="2446" y="563.0" width="2" height="53.0" fill="#26a69a"/>
<rect x="2444" y="584.0" width="6" height="12.0" fill="#9598a1"/>
<rect x="2446" y="586.0" width="2" height="8.0" fill="#26a69a"/>
<rect x="2455" y="557.0" width="2" height="46.0" fill="#26a69a"/>
<rect x="2453" y="566.0" width="6" height="14.0" fill="#9598a1"/>
<rect x="2455" y="568.0" width="2" height="10.0" fill="#26a69a"/>
<rect x="2465" y="550.0" width="2" height="36.0" fill="#26a69a"/>
<rect x="2463" y="567.0" width="6" height="2.0" fill="#9598a1"/>
<rect x="2483" y="570.0" width="2" height="23.0" fill="#26a69a"/>
<rect x="2481" y="574.0" width="6" height="6.0" fill="#9598a1"/>
<rect x="2483" y="576.0" width="2" height="2.0" fill="#26a69a"/>
<rect x="2502" y="576.0" width="2" height="30.0" fill="#26a69a"/>
<rect x="2500" y="584.0" width="6" height="6.0" fill="#9598a1"/>
<rect x="2502" y="586.0" width="2" height="2.0" fill="#26a69a"/>
<rect x="2511" y="527.0" width="2" height="72.0" fill="#26a69a"/>
<rect x="2509" y="550.0" width="6" height="37.0" fill="#9598a1"/>
<rect x="2511" y="552.0" width="2" height="33.0" fill="#26a69a"/>
<rect x="2521" y="500.0" width="2" height="73.0" fill="#26a69a"/>
<rect x="2519" y="514.0" width="6" height="39.0" fill="#9598a1"/>
<rect x="2521" y="516.0" width="2" height="35.0" fill="#26a69a"/>
<rect x="2530" y="494.0" width="2" height="42.0" fill="#26a69a"/>
<rect x="2528" y="507.0" width="6" height="7.0" fill="#9598a1"/>
<rect x="2530" y="509.0" width="2" height="3.0" fill="#26a69a"/>
<rect x="2539" y="494.0" width="2" height="30.0" fill="#26a69a"/>
<rect x="2537" y="500.0" width="6" height="7.0" fill="#9598a1"/>
<rect x="2539" y="502.0" width="2" height="3.0" fill="#26a69a"/>
<rect x="2567" y="504.0" width="2" height="32.0" fill="#26a69a"/>
<rect x="2565" y="520.0" width="6" height="4.0" fill="#9598a1"/>
<rect x="2595" y="586.0" width="2" height="70.0" fill="#26a69a"/>
<rect x="2593" y="590.0" width="6" height="49.0" fill="#9598a1"/>
<rect x="2595" y="592.0" width="2" height="45.0" fill="#26a69a"/>
<rect x="2614" y="543.0" width="2" height="76.0" fill="#26a69a"/>
<rect x="2612" y="584.0" width="6" height="23.0" fill="#9598a1"/>
<rect x="2614" y="586.0" width="2" height="19.0" fill="#26a69a"/>
<rect x="2632" y="557.0" width="2" height="33.0" fill="#26a69a"/>
<rect x="2630" y="563.0" width="6" height="24.0" fill="#9598a1"/>
<rect x="2632" y="565.0" width="2" height="20.0" fill="#26a69a"/>
<rect x="2651" y="570.0" width="2" height="16.0" fill="#26a69a"/>
<rect x="2649" y="573.0" width="6" height="2.0" fill="#9598a1"/>
<rect x="2660" y="484.0" width="2" height="92.0" fill="#26a69a"/>
<rect x="2658" y="527.0" width="6" height="47.0" fill="#9598a1"/>
<rect x="2660" y="529.0" width="2" height="43.0" fill="#26a69a"/>
<rect x="2670" y="497.0" width="2" height="33.0" fill="#26a69a"/>
<rect x="2668" y="510.0" width="6" height="20.0" fill="#9598a1"/>
<rect x="2670" y="512.0" width="2" height="16.0" fill="#26a69a"/>
<rect x="2688" y="510.0" width="2" height="33.0" fill="#26a69a"/>
<rect x="2686" y="520.0" width="6" height="2.0" fill="#9598a1"/>
<rect x="2698" y="389.0" width="2" height="135.0" fill="#26a69a"/>
<rect x="2696" y="424.0" width="6" height="96.0" fill="#9598a1"/>
<rect x="2698" y="426.0" width="2" height="92.0" fill="#26a69a"/>
<rect x="2716" y="451.0" width="2" height="43.0" fill="#26a69a"/>
<rect x="2714" y="461.0" width="6" height="3.0" fill="#9598a1"/>
<line x1="25" y1="461" x2="3276" y2="461" stroke="#26a69a" stroke-width="2" stroke-dasharray="2 4"/>
</g>
<g clip-path="url(#cr)">
<polyline points="27.0,1381.1 36.0,1389.3 45.0,1395.1 55.0,1399.7 64.0,1402.8 73.0,1406.0 83.0,1408.4 92.0,1410.2 101.0,1412.6 110.0,1413.0 120.0,1409.1 129.0,1404.4 138.0,1399.7 148.0,1395.8 157.0,1392.5 166.0,1390.9 176.0,1387.8 185.0,1383.4 194.0,1382.8 204.0,1382.8 213.0,1382.2 222.0,1383.8 231.0,1386.8 241.0,1389.1 250.0,1391.9 259.0,1393.9 269.0,1395.0 278.0,1398.2 287.0,1399.5 297.0,1399.9 306.0,1402.1 315.0,1403.7 325.0,1404.4 334.0,1402.8 343.0,1402.4 352.0,1404.8 362.0,1404.3 371.0,1407.0 380.0,1410.7 390.0,1415.6 399.0,1418.8 408.0,1419.7 418.0,1422.9 427.0,1424.4 436.0,1425.6 446.0,1427.3 455.0,1429.7 464.0,1434.0 474.0,1437.2 483.0,1435.7 492.0,1435.7 501.0,1435.5 511.0,1436.1 520.0,1437.3 529.0,1438.7 539.0,1440.6 548.0,1438.6 557.0,1437.0 567.0,1435.0 576.0,1432.0 585.0,1429.0 595.0,1428.9 604.0,1429.2 613.0,1431.3 622.0,1427.2 632.0,1424.7 641.0,1422.5 650.0,1415.2 660.0,1406.6 669.0,1399.6 678.0,1398.2 688.0,1395.4 697.0,1393.9 706.0,1393.4 716.0,1392.0 725.0,1390.5 734.0,1390.8 743.0,1389.5 753.0,1394.6 762.0,1398.6 771.0,1399.0 781.0,1403.1 790.0,1408.6 799.0,1411.5 809.0,1414.1 818.0,1417.1 827.0,1419.9 837.0,1420.4 846.0,1419.9 855.0,1417.9 865.0,1413.9 874.0,1410.0 883.0,1406.6 892.0,1400.5 902.0,1393.6 911.0,1387.6 920.0,1381.7 930.0,1379.2 939.0,1371.7 948.0,1364.6 958.0,1356.7 967.0,1350.8 976.0,1346.9 986.0,1342.2 995.0,1333.9 1004.0,1329.2 1013.0,1323.8 1023.0,1320.2 1032.0,1319.8 1041.0,1321.3 1051.0,1326.6 1060.0,1329.9 1069.0,1335.7 1079.0,1341.8 1088.0,1347.4 1097.0,1353.1 1107.0,1357.7 1116.0,1362.1 1125.0,1370.2 1135.0,1372.8 1144.0,1374.9 1153.0,1375.6 1162.0,1379.3 1172.0,1379.6 1181.0,1374.8 1190.0,1368.1 1200.0,1362.3 1209.0,1356.1 1218.0,1353.5 1228.0,1351.2 1237.0,1350.4 1246.0,1348.0 1256.0,1346.6 1265.0,1346.4 1274.0,1346.0 1283.0,1347.2 1293.0,1346.4 1302.0,1348.6 1311.0,1351.3 1321.0,1355.8 1330.0,1360.4 1339.0,1366.7 1349.0,1369.6 1358.0,1371.8 1367.0,1373.4 1377.0,1375.3 1386.0,1374.3 1395.0,1373.8 1404.0,1373.3 1414.0,1373.2 1423.0,1372.8 1432.0,1370.7 1442.0,1369.2 1451.0,1371.7 1460.0,1371.6 1470.0,1370.0 1479.0,1367.6 1488.0,1365.7 1498.0,1361.7 1507.0,1360.1 1516.0,1360.0 1526.0,1360.9 1535.0,1362.4 1544.0,1365.8 1553.0,1368.2 1563.0,1369.5 1572.0,1372.1 1581.0,1369.5 1591.0,1369.7 1600.0,1370.0 1609.0,1370.7 1619.0,1374.3 1628.0,1377.3 1637.0,1379.6 1647.0,1382.2 1656.0,1382.9 1665.0,1384.2 1674.0,1382.8 1684.0,1381.3 1693.0,1380.9 1702.0,1381.7 1712.0,1381.8 1721.0,1383.4 1730.0,1385.7 1740.0,1387.1 1749.0,1387.0 1758.0,1388.2 1768.0,1388.9 1777.0,1389.5 1786.0,1389.4 1795.0,1389.1 1805.0,1388.0 1814.0,1384.1 1823.0,1380.9 1833.0,1376.7 1842.0,1373.6 1851.0,1368.9 1861.0,1364.5 1870.0,1361.0 1879.0,1356.5 1889.0,1353.9 1898.0,1352.8 1907.0,1350.7 1917.0,1349.5 1926.0,1349.1 1935.0,1349.8 1944.0,1351.2 1954.0,1351.1 1963.0,1349.5 1972.0,1346.4 1982.0,1345.5 1991.0,1344.0 2000.0,1340.1 2010.0,1333.9 2019.0,1328.8 2028.0,1321.4 2038.0,1315.4 2047.0,1313.0 2056.0,1312.7 2065.0,1313.0 2075.0,1316.0 2084.0,1320.4 2093.0,1324.9 2103.0,1330.4 2112.0,1334.4 2121.0,1332.6 2131.0,1334.8 2140.0,1339.0 2149.0,1339.7 2159.0,1341.4 2168.0,1345.0 2177.0,1345.7 2186.0,1343.5 2196.0,1339.2 2205.0,1335.8 2214.0,1331.6 2224.0,1330.2 2233.0,1328.5 2242.0,1326.0 2252.0,1330.4 2261.0,1334.8 2270.0,1339.2 2280.0,1343.6 2289.0,1347.9 2298.0,1351.3 2308.0,1355.6 2317.0,1360.0 2326.0,1366.5 2335.0,1370.9 2345.0,1375.2 2354.0,1377.4 2363.0,1379.2 2373.0,1380.8 2382.0,1381.7 2391.0,1381.5 2401.0,1383.2 2410.0,1385.2 2419.0,1387.1 2429.0,1387.8 2438.0,1387.8 2447.0,1386.4 2456.0,1383.6 2466.0,1381.9 2475.0,1380.8 2484.0,1379.8 2494.0,1380.7 2503.0,1381.4 2512.0,1378.4 2522.0,1373.5 2531.0,1366.7 2540.0,1360.0 2550.0,1355.2 2559.0,1350.8 2568.0,1346.4 2577.0,1344.6 2587.0,1349.5 2596.0,1351.3 2605.0,1353.1 2615.0,1353.8 2624.0,1353.9 2633.0,1352.7 2643.0,1354.9 2652.0,1359.0 2661.0,1361.0 2671.0,1362.6 2680.0,1363.5 2689.0,1363.6 2699.0,1360.2 2708.0,1357.2 2717.0,1348.7" fill="none" stroke="#d4ff3b" stroke-opacity="1" stroke-width="2.3" stroke-linejoin="round" stroke-linecap="round"/>
<polyline points="27.0,1411.4 36.0,1431.2 45.0,1429.4 55.0,1448.7 64.0,1414.4 73.0,1399.7 83.0,1407.2 92.0,1397.4 101.0,1398.6 110.0,1369.4 120.0,1347.3 129.0,1344.9 138.0,1366.6 148.0,1370.1 157.0,1370.1 166.0,1408.4 176.0,1386.5 185.0,1386.5 194.0,1406.7 204.0,1400.2 213.0,1398.6 222.0,1419.6 231.0,1441.0 241.0,1400.9 250.0,1386.9 259.0,1372.9 269.0,1382.3 278.0,1413.7 287.0,1388.6 297.0,1413.7 306.0,1417.7 315.0,1408.6 325.0,1416.5 334.0,1378.3 343.0,1392.8 352.0,1453.4 362.0,1433.6 371.0,1438.7 380.0,1438.7 390.0,1441.7 399.0,1427.0 408.0,1427.0 418.0,1433.1 427.0,1434.7 436.0,1434.7 446.0,1432.6 455.0,1449.9 464.0,1437.8 474.0,1437.8 483.0,1433.1 492.0,1433.1 501.0,1435.4 511.0,1447.6 520.0,1458.5 529.0,1447.1 539.0,1453.4 548.0,1405.1 557.0,1412.6 567.0,1405.6 576.0,1391.6 585.0,1406.7 595.0,1437.1 604.0,1442.2 613.0,1462.7 622.0,1375.6 632.0,1399.5 641.0,1417.1 650.0,1356.3 660.0,1326.4 669.0,1355.3 678.0,1385.8 688.0,1374.0 697.0,1384.4 706.0,1384.3 716.0,1387.1 725.0,1416.4 734.0,1446.2 743.0,1445.1 753.0,1446.9 762.0,1455.2 771.0,1422.6 781.0,1413.9 790.0,1403.7 799.0,1395.1 809.0,1422.4 818.0,1415.7 827.0,1423.7 837.0,1392.1 846.0,1379.5 855.0,1388.1 865.0,1391.1 874.0,1389.9 883.0,1399.7 892.0,1369.5 902.0,1325.6 911.0,1330.9 920.0,1320.4 930.0,1359.8 939.0,1317.1 948.0,1316.5 958.0,1314.1 967.0,1308.5 976.0,1325.6 986.0,1322.7 995.0,1275.0 1004.0,1323.4 1013.0,1324.4 1023.0,1319.3 1032.0,1319.2 1041.0,1352.7 1051.0,1393.7 1060.0,1406.3 1069.0,1398.8 1079.0,1401.2 1088.0,1393.4 1097.0,1387.9 1107.0,1389.8 1116.0,1384.7 1125.0,1388.0 1135.0,1359.4 1144.0,1354.8 1153.0,1327.9 1162.0,1371.8 1172.0,1356.1 1181.0,1326.6 1190.0,1312.9 1200.0,1317.5 1209.0,1314.4 1218.0,1357.3 1228.0,1355.4 1237.0,1378.6 1246.0,1350.8 1256.0,1368.4 1265.0,1356.8 1274.0,1350.1 1283.0,1344.3 1293.0,1359.9 1302.0,1387.6 1311.0,1364.2 1321.0,1375.9 1330.0,1381.7 1339.0,1402.9 1349.0,1398.0 1358.0,1385.9 1367.0,1401.8 1377.0,1376.5 1386.0,1355.4 1395.0,1349.6 1404.0,1342.2 1414.0,1343.6 1423.0,1353.9 1432.0,1358.0 1442.0,1342.9 1451.0,1412.0 1460.0,1379.3 1470.0,1380.3 1479.0,1365.0 1488.0,1359.1 1498.0,1346.4 1507.0,1353.7 1516.0,1353.7 1526.0,1362.8 1535.0,1362.6 1544.0,1392.3 1553.0,1386.6 1563.0,1376.0 1572.0,1380.1 1581.0,1375.2 1591.0,1382.5 1600.0,1384.1 1609.0,1374.5 1619.0,1409.5 1628.0,1389.1 1637.0,1385.3 1647.0,1389.9 1656.0,1373.0 1665.0,1381.3 1674.0,1371.5 1684.0,1365.6 1693.0,1371.5 1702.0,1390.6 1712.0,1376.6 1721.0,1405.0 1730.0,1416.8 1740.0,1393.8 1749.0,1408.2 1758.0,1405.4 1768.0,1395.9 1777.0,1398.1 1786.0,1370.9 1795.0,1377.2 1805.0,1356.6 1814.0,1311.1 1823.0,1327.0 1833.0,1331.1 1842.0,1333.5 1851.0,1338.4 1861.0,1355.8 1870.0,1345.0 1879.0,1345.0 1889.0,1368.4 1898.0,1381.6 1907.0,1368.9 1917.0,1353.5 1926.0,1371.4 1935.0,1366.3 1944.0,1330.5 1954.0,1326.1 1963.0,1308.9 1972.0,1289.7 1982.0,1326.5 1991.0,1334.4 2000.0,1290.9 2010.0,1257.2 2019.0,1296.8 2028.0,1278.9 2038.0,1285.0 2047.0,1319.6 2056.0,1366.9 2065.0,1370.9 2075.0,1372.4 2084.0,1387.2 2093.0,1372.6 2103.0,1366.5 2112.0,1382.7 2121.0,1308.7 2131.0,1321.7 2140.0,1316.6 2149.0,1306.1 2159.0,1302.4 2168.0,1336.2 2177.0,1329.5 2186.0,1335.9 2196.0,1310.8 2205.0,1324.6 2214.0,1328.0 2224.0,1352.4 2233.0,1343.3 2242.0,1348.1 2252.0,1370.0 2261.0,1382.5 2270.0,1379.1 2280.0,1367.4 2289.0,1362.5 2298.0,1384.5 2308.0,1389.1 2317.0,1398.1 2326.0,1401.2 2335.0,1386.0 2345.0,1387.9 2354.0,1383.2 2363.0,1369.8 2373.0,1369.7 2382.0,1382.9 2391.0,1380.2 2401.0,1401.7 2410.0,1395.3 2419.0,1390.1 2429.0,1394.6 2438.0,1388.4 2447.0,1378.7 2456.0,1362.2 2466.0,1362.3 2475.0,1372.6 2484.0,1368.8 2494.0,1382.5 2503.0,1378.7 2512.0,1342.0 2522.0,1311.6 2531.0,1306.5 2540.0,1301.0 2550.0,1323.3 2559.0,1332.0 2568.0,1327.8 2577.0,1353.1 2587.0,1430.4 2596.0,1387.6 2605.0,1398.2 2615.0,1379.0 2624.0,1383.9 2633.0,1361.9 2643.0,1372.0 2652.0,1369.2 2661.0,1334.2 2671.0,1323.3 2680.0,1336.1 2689.0,1333.1 2699.0,1280.4 2708.0,1311.6 2717.0,1311.6" fill="none" stroke="#a052d0" stroke-opacity="1" stroke-width="2.3" stroke-linejoin="round" stroke-linecap="round"/>
</g>
<rect x="3405" y="67" width="2" height="1517" fill="#484848"/>
<rect x="24" y="1514" width="3577" height="2" fill="#484848"/>
<text x="25.4" y="48.4" font-size="29.3" fill="#131722" stroke="#131722" stroke-width="0.55" font-family="Liberation Sans, sans-serif" textLength="975" lengthAdjust="spacingAndGlyphs" >Jake_Simmons published on TradingView.com, Apr 14, 2023 06:03 UTC-4</text>
<text x="3431" y="109" font-size="28" fill="#4a4a4a" stroke="#4a4a4a" stroke-width="0.55" font-family="Liberation Sans, sans-serif" textLength="48" lengthAdjust="spacingAndGlyphs" >USD</text>
<text x="3429.4" y="235.8" font-size="28" fill="#4a4a4a" stroke="#4a4a4a" stroke-width="0.55" font-family="Liberation Sans, sans-serif" textLength="143.6" lengthAdjust="spacingAndGlyphs" >0.00001200</text>
<text x="3429.4" y="566.3" font-size="28" fill="#4a4a4a" stroke="#4a4a4a" stroke-width="0.55" font-family="Liberation Sans, sans-serif" textLength="143.6" lengthAdjust="spacingAndGlyphs" >0.00001100</text>
<text x="3429.4" y="731.6" font-size="28" fill="#4a4a4a" stroke="#4a4a4a" stroke-width="0.55" font-family="Liberation Sans, sans-serif" textLength="143.6" lengthAdjust="spacingAndGlyphs" >0.00001050</text>
<text x="3429.4" y="896.9" font-size="28" fill="#4a4a4a" stroke="#4a4a4a" stroke-width="0.55" font-family="Liberation Sans, sans-serif" textLength="143.6" lengthAdjust="spacingAndGlyphs" >0.00001000</text>
<text x="3429.4" y="1062.2" font-size="28" fill="#4a4a4a" stroke="#4a4a4a" stroke-width="0.55" font-family="Liberation Sans, sans-serif" textLength="143.6" lengthAdjust="spacingAndGlyphs" >0.00000950</text>
<clipPath id="c9"><rect x="3407" y="1190" width="192" height="32"/></clipPath>
<text x="3429.4" y="1226.9" font-size="28" fill="#4a4a4a" stroke="#4a4a4a" stroke-width="0.55" font-family="Liberation Sans, sans-serif" textLength="143.6" lengthAdjust="spacingAndGlyphs" clip-path="url(#c9)">0.00000900</text>
<clipPath id="c8"><rect x="3407" y="1224" width="192" height="40"/></clipPath>
<text x="3429.5" y="1238.6" font-size="28" fill="#4a4a4a" stroke="#4a4a4a" stroke-width="0.55" font-family="Liberation Sans, sans-serif" textLength="68.4" lengthAdjust="spacingAndGlyphs" clip-path="url(#c8)">80.00</text>
<text x="3429.5" y="1327.6" font-size="28" fill="#4a4a4a" stroke="#4a4a4a" stroke-width="0.55" font-family="Liberation Sans, sans-serif" textLength="68.4" lengthAdjust="spacingAndGlyphs" >60.00</text>
<text x="3429.5" y="1415.6" font-size="28" fill="#4a4a4a" stroke="#4a4a4a" stroke-width="0.55" font-family="Liberation Sans, sans-serif" textLength="68.4" lengthAdjust="spacingAndGlyphs" >40.00</text>
<text x="3429.5" y="1504.6" font-size="28" fill="#4a4a4a" stroke="#4a4a4a" stroke-width="0.55" font-family="Liberation Sans, sans-serif" textLength="68.4" lengthAdjust="spacingAndGlyphs" >20.00</text>
<rect x="26" y="1222" width="3573" height="2" fill="#dde0e9"/>
<rect x="3405" y="369" width="183" height="40" rx="4" fill="#2962ff"/>
<rect x="3405" y="369" width="6" height="40" fill="#2962ff"/>
<text x="3429.4" y="399" font-size="28" fill="#fff" stroke="#fff" stroke-width="0.55" font-family="Liberation Sans, sans-serif" textLength="143.6" lengthAdjust="spacingAndGlyphs" >0.00001151</text>
<rect x="3405" y="441" width="183" height="72" rx="4" fill="#26a69a"/>
<rect x="3405" y="441" width="6" height="72" fill="#26a69a"/>
<text x="3429.4" y="470.6" font-size="28" fill="#fff" stroke="#fff" stroke-width="0.55" font-family="Liberation Sans, sans-serif" textLength="143.6" lengthAdjust="spacingAndGlyphs" >0.00001129</text>
<text x="3430.3" y="502.6" font-size="28" fill="#c0e6e1" stroke="#c0e6e1" stroke-width="0.55" font-family="Liberation Sans, sans-serif" textLength="109" lengthAdjust="spacingAndGlyphs" >01:56:08</text>
<rect x="3275" y="441" width="128" height="40" rx="4" fill="#26a69a"/>
<rect x="3395" y="441" width="8" height="40" fill="#26a69a"/>
<text x="3288" y="470.6" font-size="28" fill="#fff" stroke="#fff" stroke-width="0.55" font-family="Liberation Sans, sans-serif" textLength="101.3" lengthAdjust="spacingAndGlyphs" >SHIBUSD</text>
<text x="45.3" y="115.4" font-size="28" fill="#4f4f4f" stroke="#4f4f4f" stroke-width="0.55" font-family="Liberation Sans, sans-serif" textLength="636" lengthAdjust="spacingAndGlyphs" >Shiba Inu / United States Dollar, 4h, COINBASE</text>
<text x="700.3" y="115.4" font-size="28" fill="#4f4f4f" stroke="#4f4f4f" stroke-width="0.55" font-family="Liberation Sans, sans-serif" textLength="19.4" lengthAdjust="spacingAndGlyphs" >O</text>
<text x="722.6" y="115.4" font-size="28" fill="#9598a1" stroke="#9598a1" stroke-width="0.55" font-family="Liberation Sans, sans-serif" textLength="144.4" lengthAdjust="spacingAndGlyphs" >0.00001128</text>
<text x="888.8" y="115.4" font-size="28" fill="#4f4f4f" stroke="#4f4f4f" stroke-width="0.55" font-family="Liberation Sans, sans-serif" textLength="17.2" lengthAdjust="spacingAndGlyphs" >H</text>
<text x="908" y="115.4" font-size="28" fill="#9598a1" stroke="#9598a1" stroke-width="0.55" font-family="Liberation Sans, sans-serif" textLength="144.4" lengthAdjust="spacingAndGlyphs" >0.00001132</text>
<text x="1073.6" y="115.4" font-size="28" fill="#4f4f4f" stroke="#4f4f4f" stroke-width="0.55" font-family="Liberation Sans, sans-serif" textLength="13.1" lengthAdjust="spacingAndGlyphs" >L</text>
<text x="1088" y="115.4" font-size="28" fill="#9598a1" stroke="#9598a1" stroke-width="0.55" font-family="Liberation Sans, sans-serif" textLength="144.4" lengthAdjust="spacingAndGlyphs" >0.00001119</text>
<text x="1253" y="115.4" font-size="28" fill="#4f4f4f" stroke="#4f4f4f" stroke-width="0.55" font-family="Liberation Sans, sans-serif" textLength="15" lengthAdjust="spacingAndGlyphs" >C</text>
<text x="1270.3" y="115.4" font-size="28" fill="#9598a1" stroke="#9598a1" stroke-width="0.55" font-family="Liberation Sans, sans-serif" textLength="144.4" lengthAdjust="spacingAndGlyphs" >0.00001129</text>
<text x="1435.7" y="115.4" font-size="28" fill="#9598a1" stroke="#9598a1" stroke-width="0.55" font-family="Liberation Sans, sans-serif" textLength="246" lengthAdjust="spacingAndGlyphs" >0.00000000 (0.00%)</text>
<text x="45.5" y="157.2" font-size="28" fill="#4f4f4f" stroke="#4f4f4f" stroke-width="0.55" font-family="Liberation Sans, sans-serif" textLength="129" lengthAdjust="spacingAndGlyphs" >Vol · SHIB</text>
<text x="197.7" y="157.2" font-size="28" fill="#26a69a" stroke="#26a69a" stroke-width="0.55" font-family="Liberation Sans, sans-serif" textLength="113.3" lengthAdjust="spacingAndGlyphs" >129.559B</text>
<text x="45.5" y="240.8" font-size="28" fill="#4f4f4f" stroke="#4f4f4f" stroke-width="0.55" font-family="Liberation Sans, sans-serif" textLength="129" lengthAdjust="spacingAndGlyphs" >Vol · SHIB</text>
<text x="197.7" y="240.8" font-size="28" fill="#26a69a" stroke="#26a69a" stroke-width="0.55" font-family="Liberation Sans, sans-serif" textLength="113.3" lengthAdjust="spacingAndGlyphs" >129.559B</text>
<text x="45.5" y="199.0" font-size="28" fill="#4f4f4f" stroke="#4f4f4f" stroke-width="0.55" font-family="Liberation Sans, sans-serif" textLength="261.8" lengthAdjust="spacingAndGlyphs" >EMA 20/50/100/200</text>
<text x="328" y="199.0" font-size="28" fill="#ff8000" stroke="#ff8000" stroke-width="0.55" font-family="Liberation Sans, sans-serif" textLength="143" lengthAdjust="spacingAndGlyphs" >0.00001103</text>
<text x="493.7" y="199.0" font-size="28" fill="#00ffff" stroke="#00ffff" stroke-width="0.55" font-family="Liberation Sans, sans-serif" textLength="143" lengthAdjust="spacingAndGlyphs" >0.00001098</text>
<text x="659" y="199.0" font-size="28" fill="#0000ff" stroke="#0000ff" stroke-width="0.55" font-family="Liberation Sans, sans-serif" textLength="142.5" lengthAdjust="spacingAndGlyphs" >0.00001103</text>
<text x="45.7" y="1272.3" font-size="28" fill="#4f4f4f" stroke="#4f4f4f" stroke-width="0.55" font-family="Liberation Sans, sans-serif" textLength="38.7" lengthAdjust="spacingAndGlyphs" >RSI</text>
<text x="97.4" y="1272.3" font-size="28" fill="#4f4f4f" stroke="#4f4f4f" stroke-width="0.55" font-family="Liberation Sans, sans-serif" textLength="301.6" lengthAdjust="spacingAndGlyphs" >(14, close, SMA, 14, 2)</text>
<text x="420.5" y="1272.3" font-size="28" fill="#a052d0" stroke="#a052d0" stroke-width="0.55" font-family="Liberation Sans, sans-serif" textLength="69.3" lengthAdjust="spacingAndGlyphs" >61.77</text>
<text x="510.5" y="1272.3" font-size="28" fill="#d4ff3b" stroke="#d4ff3b" stroke-width="0.55" font-family="Liberation Sans, sans-serif" textLength="70.5" lengthAdjust="spacingAndGlyphs" >53.24</text>
<circle cx="614.2" cy="1262.5" r="10.3" fill="none" stroke="#555" stroke-width="2.2"/>
<line x1="603.7" y1="1274.5" x2="624.7" y2="1251" stroke="#555" stroke-width="2.2"/>
<circle cx="662.8" cy="1262.5" r="10.3" fill="none" stroke="#555" stroke-width="2.2"/>
<line x1="652.3" y1="1274.5" x2="673.3" y2="1251" stroke="#555" stroke-width="2.2"/>
<text x="259" y="1558.8" font-size="28" fill="#4a4a4a" stroke="#4a4a4a" stroke-width="0.55" font-family="Liberation Sans, sans-serif" text-anchor="middle" font-weight="bold" >Mar</text>
<text x="539" y="1558.8" font-size="28" fill="#4a4a4a" stroke="#4a4a4a" stroke-width="0.55" font-family="Liberation Sans, sans-serif" text-anchor="middle" >6</text>
<text x="920" y="1558.8" font-size="28" fill="#4a4a4a" stroke="#4a4a4a" stroke-width="0.55" font-family="Liberation Sans, sans-serif" text-anchor="middle" >13</text>
<text x="1116" y="1558.8" font-size="28" fill="#4a4a4a" stroke="#4a4a4a" stroke-width="0.55" font-family="Liberation Sans, sans-serif" text-anchor="middle" >12:00</text>
<text x="1311" y="1558.8" font-size="28" fill="#4a4a4a" stroke="#4a4a4a" stroke-width="0.55" font-family="Liberation Sans, sans-serif" text-anchor="middle" >20</text>
<text x="1507" y="1558.8" font-size="28" fill="#4a4a4a" stroke="#4a4a4a" stroke-width="0.55" font-family="Liberation Sans, sans-serif" text-anchor="middle" >12:00</text>
<text x="1702" y="1558.8" font-size="28" fill="#4a4a4a" stroke="#4a4a4a" stroke-width="0.55" font-family="Liberation Sans, sans-serif" text-anchor="middle" >27</text>
<text x="1982" y="1558.8" font-size="28" fill="#4a4a4a" stroke="#4a4a4a" stroke-width="0.55" font-family="Liberation Sans, sans-serif" text-anchor="middle" font-weight="bold" >Apr</text>
<text x="2205" y="1558.8" font-size="28" fill="#4a4a4a" stroke="#4a4a4a" stroke-width="0.55" font-family="Liberation Sans, sans-serif" text-anchor="middle" >5</text>
<text x="2484" y="1558.8" font-size="28" fill="#4a4a4a" stroke="#4a4a4a" stroke-width="0.55" font-family="Liberation Sans, sans-serif" text-anchor="middle" >10</text>
<text x="2680" y="1558.8" font-size="28" fill="#4a4a4a" stroke="#4a4a4a" stroke-width="0.55" font-family="Liberation Sans, sans-serif" text-anchor="middle" >12:00</text>
<text x="2875" y="1558.8" font-size="28" fill="#4a4a4a" stroke="#4a4a4a" stroke-width="0.55" font-family="Liberation Sans, sans-serif" text-anchor="middle" >17</text>
<text x="3071" y="1558.8" font-size="28" fill="#4a4a4a" stroke="#4a4a4a" stroke-width="0.55" font-family="Liberation Sans, sans-serif" text-anchor="middle" >12:00</text>
<text x="3266" y="1558.8" font-size="28" fill="#4a4a4a" stroke="#4a4a4a" stroke-width="0.55" font-family="Liberation Sans, sans-serif" text-anchor="middle" >24</text>
<g fill="#131722">
<path d="M25.7 1614.6H44.7V1638.9H35V1623.5H25.7Z"/>
<circle cx="52.6" cy="1619.8" r="5.2"/>
<path d="M62.7 1614.6H73.2L63.7 1638.9H52.8Z"/>
</g>
<text x="82.8" y="1640.2" font-size="33" fill="#131722" stroke="#131722" stroke-width="0.55" font-family="Liberation Sans, sans-serif" textLength="176.8" lengthAdjust="spacingAndGlyphs" >TradingView</text>
</svg>
</body></html>
